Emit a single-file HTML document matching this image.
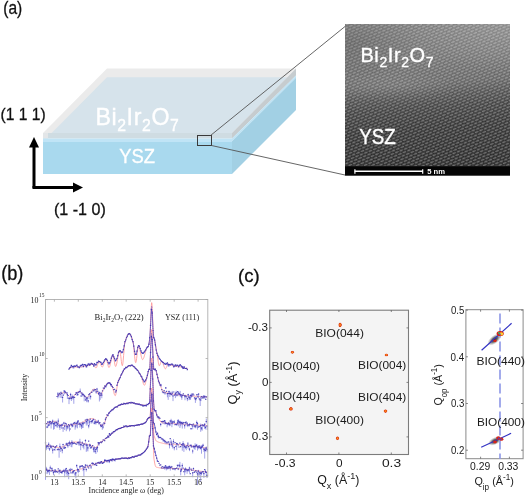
<!DOCTYPE html>
<html><head><meta charset="utf-8">
<style>
html,body{margin:0;padding:0;background:#fff;}
body{width:525px;height:496px;overflow:hidden;}
svg{display:block;will-change:transform;}
.s{font-family:"Liberation Sans",sans-serif;}
.r{font-family:"Liberation Serif",serif;}
</style></head><body>
<svg width="525" height="496" viewBox="0 0 525 496">
<defs>
  <pattern id="texA" width="4.8" height="5.6" patternUnits="userSpaceOnUse" patternTransform="rotate(-22)">
    <rect width="4.8" height="5.6" fill="#000" fill-opacity="0.24"/>
    <ellipse cx="1.2" cy="1.4" rx="2.1" ry="0.85" fill="#fff" fill-opacity="0.34"/>
    <ellipse cx="3.6" cy="4.2" rx="2.1" ry="0.85" fill="#fff" fill-opacity="0.34"/>
    <ellipse cx="-1.2" cy="4.2" rx="2.1" ry="0.85" fill="#fff" fill-opacity="0.34"/>
    <ellipse cx="6.0" cy="1.4" rx="2.1" ry="0.85" fill="#fff" fill-opacity="0.34"/>
  </pattern>
  <radialGradient id="temtl" gradientUnits="userSpaceOnUse" cx="345" cy="42" r="80" gradientTransform="translate(345 42) scale(1 0.5) translate(-345 -42)">
    <stop offset="0" stop-color="#000" stop-opacity="0.15"/>
    <stop offset="1" stop-color="#000" stop-opacity="0"/>
  </radialGradient>
  <radialGradient id="temlp" gradientUnits="userSpaceOnUse" cx="395" cy="86" r="65" gradientTransform="translate(395 86) scale(1 0.25) translate(-395 -86)">
    <stop offset="0" stop-color="#fff" stop-opacity="0.07"/>
    <stop offset="1" stop-color="#fff" stop-opacity="0"/>
  </radialGradient>
  <linearGradient id="temg" gradientUnits="userSpaceOnUse" x1="345" y1="24" x2="355" y2="189">
    <stop offset="0" stop-color="#a4a4a4"/>
    <stop offset="0.218" stop-color="#949494"/>
    <stop offset="0.388" stop-color="#808080"/>
    <stop offset="0.46" stop-color="#666666"/>
    <stop offset="0.533" stop-color="#525252"/>
    <stop offset="0.655" stop-color="#404040"/>
    <stop offset="0.86" stop-color="#333333"/>
    <stop offset="1" stop-color="#313131"/>
  </linearGradient>
  <radialGradient id="temtr" gradientUnits="userSpaceOnUse" cx="510" cy="24" r="90" gradientTransform="translate(510 24) scale(1 0.55) translate(-510 -24)">
    <stop offset="0" stop-color="#fff" stop-opacity="0.12"/>
    <stop offset="1" stop-color="#fff" stop-opacity="0"/>
  </radialGradient>
  <linearGradient id="temh" x1="0" y1="0" x2="1" y2="0">
    <stop offset="0" stop-color="#000" stop-opacity="0.05"/>
    <stop offset="0.5" stop-color="#fff" stop-opacity="0"/>
    <stop offset="1" stop-color="#fff" stop-opacity="0.07"/>
  </linearGradient>
  <radialGradient id="spot" cx="0.5" cy="0.5" r="0.5">
    <stop offset="0" stop-color="#ffb020"/>
    <stop offset="0.4" stop-color="#f46a14"/>
    <stop offset="0.8" stop-color="#d8341a"/>
    <stop offset="1" stop-color="#d8341a" stop-opacity="0.3"/>
  </radialGradient>
  <radialGradient id="halo" cx="0.5" cy="0.5" r="0.5">
    <stop offset="0" stop-color="#1a1a1a" stop-opacity="1"/>
    <stop offset="0.45" stop-color="#404040" stop-opacity="0.75"/>
    <stop offset="1" stop-color="#909090" stop-opacity="0"/>
  </radialGradient>
</defs>

<!-- ================= PANEL (a) ================= -->
<text class="s" x="3.3" y="14" font-size="18.5" textLength="19" lengthAdjust="spacingAndGlyphs" fill="#111" stroke="#111" stroke-width="0.3">(a)</text>

<!-- slab -->
<polygon points="43,133 232,133 296,68.5 107,68.5" fill="#ebebeb"/>
<polygon points="51.7,133 232,133 287.3,77.2 107,77.2" fill="#d6e3eb"/>
<polygon points="43,133 232,133 232,138.6 43,138.6" fill="#cfdce2"/>
<polygon points="43,133 48,133 48,138.6 43,138.6" fill="#e3e6e8"/>
<polygon points="43,138.6 232,138.6 232,142 43,142" fill="#c0e4f6"/>
<polygon points="43,142 232,142 232,174 43,174" fill="#a9d9ee"/>
<polygon points="232,133 296,68.5 296,75.5 232,138.6" fill="#c6cccf"/>
<polygon points="232,138.6 296,75.5 296,77.8 232,141.2" fill="#bfe3f4"/>
<polygon points="232,141.2 296,77.8 296,110 232,174" fill="#a2d0e4"/>

<text class="s" fill="#ffffff" stroke="#fff" stroke-width="0.35" font-size="23.2" y="124.5" letter-spacing="0.6"><tspan x="95.4">Bi</tspan><tspan font-size="15.8" dy="6">2</tspan><tspan dy="-6">Ir</tspan><tspan font-size="15.8" dy="6">2</tspan><tspan dy="-6">O</tspan><tspan font-size="15.8" dy="6">7</tspan></text>
<text class="s" fill="#ffffff" stroke="#fff" stroke-width="0.35" font-size="20.8" x="119.2" y="162.8" textLength="35.8" lengthAdjust="spacingAndGlyphs">YSZ</text>

<!-- axes arrows -->
<path d="M34,188 V146" stroke="#000" stroke-width="3" fill="none"/>
<polygon points="34,137 29,147.5 39,147.5" fill="#000"/>
<path d="M32.5,187.5 H74" stroke="#000" stroke-width="3" fill="none"/>
<polygon points="83,187.5 73,182.5 73,192.5" fill="#000"/>
<text class="s" x="0.6" y="119.8" font-size="16.5" textLength="45" lengthAdjust="spacingAndGlyphs" fill="#111" stroke="#111" stroke-width="0.3">(1 1 1)</text>
<text class="s" x="54" y="215" font-size="16.5" textLength="51.8" lengthAdjust="spacingAndGlyphs" fill="#111" stroke="#111" stroke-width="0.3">(1 -1 0)</text>

<!-- zoom box and lines -->
<rect x="197.5" y="135.5" width="14" height="10" fill="none" stroke="#3a3a3a" stroke-width="1"/>
<path d="M210.5,135.5 L345,26.5 M211.5,145.5 L345,175" stroke="#555" stroke-width="0.9" fill="none"/>

<!-- TEM -->
<rect x="345" y="24" width="165" height="151.5" fill="url(#temg)"/>
<rect x="345" y="24" width="165" height="142.3" fill="url(#texA)"/>
<rect x="345" y="24" width="165" height="90" fill="url(#temtl)"/>
<rect x="345" y="60" width="165" height="50" fill="url(#temlp)"/>
<rect x="345" y="24" width="165" height="60" fill="url(#temtr)"/>
<rect x="345" y="166.3" width="165" height="9.2" fill="#050505"/>
<path d="M354.7,171.3 H423" stroke="#fff" stroke-width="1.4"/>
<path d="M354.9,169.3 V173.7" stroke="#fff" stroke-width="1.2"/>
<path d="M422.7,169.3 V173.7" stroke="#fff" stroke-width="1.2"/>
<text class="s" x="427.2" y="174" font-size="7.4" font-weight="bold" fill="#fff" textLength="17.8" lengthAdjust="spacingAndGlyphs">5 nm</text>
<text class="s" fill="#fff" stroke="#fff" stroke-width="0.35" font-size="20" y="62" letter-spacing="0.6"><tspan x="360.4">Bi</tspan><tspan font-size="14" dy="5">2</tspan><tspan dy="-5">Ir</tspan><tspan font-size="14" dy="5">2</tspan><tspan dy="-5">O</tspan><tspan font-size="14" dy="5">7</tspan></text>
<text class="s" fill="#fff" stroke="#fff" stroke-width="0.35" font-size="21.3" x="359.2" y="144" textLength="36.6" lengthAdjust="spacingAndGlyphs">YSZ</text>

<!-- ================= PANEL (b) ================= -->
<text class="s" x="1.2" y="279.8" font-size="20" textLength="22.2" lengthAdjust="spacingAndGlyphs" fill="#111" stroke="#111" stroke-width="0.3">(b)</text>
<g id="bplot">
<path d="M69.0,368.0 L69.2,368.0 L69.4,367.9 L69.6,367.9 L69.8,367.9 L70.0,367.8 L70.2,367.8 L70.4,367.7 L70.6,367.7 L70.8,367.6 L71.0,367.6 L71.2,367.5 L71.4,367.5 L71.6,367.5 L71.8,367.4 L72.0,367.4 L72.2,367.3 L72.4,367.3 L72.6,367.3 L72.8,367.2 L73.0,367.2 L73.2,367.2 L73.4,367.1 L73.6,367.1 L73.8,367.1 L74.0,367.1 L74.2,367.0 L74.4,367.0 L74.6,367.0 L74.8,367.0 L75.0,367.0 L75.2,367.0 L75.4,367.0 L75.6,367.0 L75.8,367.0 L76.0,367.0 L76.2,367.0 L76.4,367.0 L76.6,367.0 L76.8,367.0 L77.0,367.0 L77.2,367.0 L77.4,367.0 L77.6,367.0 L77.8,367.0 L78.0,367.0 L78.2,367.0 L78.4,367.0 L78.6,367.0 L78.8,367.0 L79.0,367.0 L79.2,367.0 L79.4,367.0 L79.6,367.0 L79.8,367.0 L80.0,367.0 L80.2,367.0 L80.4,367.0 L80.6,367.0 L80.8,367.0 L81.0,367.0 L81.2,366.9 L81.4,366.9 L81.6,366.9 L81.8,366.9 L82.0,366.8 L82.2,366.8 L82.4,366.8 L82.6,366.7 L82.8,366.7 L83.0,366.7 L83.2,366.6 L83.4,366.6 L83.6,366.5 L83.8,366.5 L84.0,366.4 L84.2,366.4 L84.4,366.3 L84.6,366.3 L84.8,366.3 L85.0,366.2 L85.2,366.2 L85.4,366.1 L85.6,366.1 L85.8,366.0 L86.0,366.0 L86.2,366.0 L86.4,365.9 L86.6,365.9 L86.8,365.8 L87.0,365.8 L87.2,365.7 L87.4,365.7 L87.6,365.6 L87.8,365.6 L88.0,365.5 L88.2,365.5 L88.4,365.4 L88.6,365.4 L88.8,365.3 L89.0,365.3 L89.2,365.2 L89.4,365.2 L89.6,365.1 L89.8,365.1 L90.0,365.0 L90.2,364.9 L90.4,364.9 L90.6,364.8 L90.8,364.7 L91.0,364.6 L91.2,364.5 L91.4,364.4 L91.6,364.3 L91.8,364.3 L92.0,364.2 L92.2,364.1 L92.4,364.1 L92.6,364.0 L92.8,364.0 L93.0,364.0 L93.2,364.1 L93.4,364.2 L93.6,364.4 L93.8,364.7 L94.0,365.0 L94.2,365.4 L94.4,365.8 L94.6,366.2 L94.8,366.6 L95.0,367.0 L95.2,367.3 L95.4,367.6 L95.6,367.8 L95.8,367.9 L96.0,368.0 L96.2,367.9 L96.4,367.7 L96.6,367.4 L96.8,366.9 L97.0,366.4 L97.2,365.8 L97.4,365.2 L97.6,364.6 L97.8,364.0 L98.0,363.4 L98.2,362.8 L98.4,362.3 L98.6,362.0 L98.8,361.7 L99.0,361.5 L99.2,361.5 L99.4,361.6 L99.6,361.9 L99.8,362.2 L100.0,362.6 L100.2,363.1 L100.4,363.6 L100.6,364.1 L100.8,364.6 L101.0,365.2 L101.2,365.7 L101.4,366.1 L101.6,366.5 L101.8,366.7 L102.0,366.9 L102.2,367.0 L102.4,366.9 L102.6,366.8 L102.8,366.5 L103.0,366.1 L103.2,365.6 L103.4,365.1 L103.6,364.5 L103.8,363.9 L104.0,363.3 L104.2,362.7 L104.4,362.1 L104.6,361.5 L104.8,360.9 L105.0,360.4 L105.2,359.9 L105.4,359.5 L105.6,359.2 L105.8,359.1 L106.0,359.0 L106.2,359.1 L106.4,359.4 L106.6,359.9 L106.8,360.5 L107.0,361.2 L107.2,362.0 L107.4,362.8 L107.6,363.7 L107.8,364.5 L108.0,365.3 L108.2,366.0 L108.4,366.6 L108.6,367.1 L108.8,367.4 L109.0,367.5 L109.2,367.4 L109.4,367.1 L109.6,366.7 L109.8,366.1 L110.0,365.5 L110.2,364.7 L110.4,363.8 L110.6,362.9 L110.8,362.0 L111.0,361.0 L111.2,360.1 L111.4,359.1 L111.6,358.2 L111.8,357.4 L112.0,356.7 L112.2,356.1 L112.4,355.6 L112.6,355.2 L112.8,355.0 L113.0,355.0 L113.2,355.4 L113.4,356.0 L113.6,356.9 L113.8,358.0 L114.0,359.2 L114.2,360.4 L114.4,361.7 L114.6,362.9 L114.8,364.1 L115.0,365.0 L115.2,365.8 L115.4,366.3 L115.6,366.5 L115.8,366.4 L116.0,366.1 L116.2,365.6 L116.4,364.9 L116.6,364.1 L116.8,363.2 L117.0,362.2 L117.2,361.1 L117.4,360.0 L117.6,358.8 L117.8,357.6 L118.0,356.5 L118.2,355.4 L118.4,354.3 L118.6,353.3 L118.8,352.5 L119.0,351.7 L119.2,351.2 L119.4,350.7 L119.6,350.5 L119.8,350.6 L120.0,351.1 L120.2,352.0 L120.4,353.2 L120.6,354.7 L120.8,356.4 L121.0,358.1 L121.2,359.8 L121.4,361.5 L121.6,363.0 L121.8,364.2 L122.0,365.1 L122.2,365.6 L122.4,365.6 L122.6,365.0 L122.8,363.8 L123.0,362.2 L123.2,360.2 L123.4,358.0 L123.6,355.6 L123.8,353.2 L124.0,350.7 L124.2,348.4 L124.4,346.2 L124.6,344.4 L124.8,343.0 L125.0,342.0 L125.2,341.3 L125.4,340.7 L125.6,340.0 L125.8,339.4 L126.0,338.8 L126.2,338.2 L126.4,337.7 L126.6,337.2 L126.8,336.7 L127.0,336.2 L127.2,335.8 L127.4,335.4 L127.6,335.0 L127.8,334.6 L128.0,334.3 L128.2,334.1 L128.4,333.9 L128.6,333.7 L128.8,333.5 L129.0,333.5 L129.2,333.4 L129.4,333.4 L129.6,333.5 L129.8,333.6 L130.0,333.8 L130.2,334.1 L130.4,334.4 L130.6,334.8 L130.8,335.2 L131.0,335.6 L131.2,336.1 L131.4,336.7 L131.6,337.3 L131.8,337.9 L132.0,338.5 L132.2,339.2 L132.4,339.8 L132.6,340.6 L132.8,341.3 L133.0,342.0 L133.2,343.0 L133.4,344.3 L133.6,345.9 L133.8,347.8 L134.0,349.9 L134.2,352.0 L134.4,354.1 L134.6,356.2 L134.8,358.1 L135.0,359.7 L135.2,361.1 L135.4,362.1 L135.6,362.6 L135.8,362.6 L136.0,362.2 L136.2,361.3 L136.4,360.1 L136.6,358.6 L136.8,357.0 L137.0,355.2 L137.2,353.4 L137.4,351.6 L137.6,350.0 L137.8,348.5 L138.0,347.3 L138.2,346.4 L138.4,346.0 L138.6,345.9 L138.8,346.1 L139.0,346.5 L139.2,347.0 L139.4,347.6 L139.6,348.3 L139.8,349.2 L140.0,350.1 L140.2,351.0 L140.4,352.0 L140.6,353.0 L140.8,354.0 L141.0,355.0 L141.2,355.9 L141.4,356.8 L141.6,357.6 L141.8,358.2 L142.0,358.8 L142.2,359.2 L142.4,359.5 L142.6,359.6 L142.8,359.5 L143.0,359.4 L143.2,359.1 L143.4,358.7 L143.6,358.3 L143.8,357.7 L144.0,357.1 L144.2,356.5 L144.4,355.8 L144.6,355.1 L144.8,354.3 L145.0,353.6 L145.2,352.8 L145.4,352.1 L145.6,351.4 L145.8,350.7 L146.0,350.0 L146.2,349.4 L146.4,348.9 L146.6,348.4 L146.8,348.0 L147.0,347.7 L147.2,347.4 L147.4,347.1 L147.6,346.9 L147.8,346.7 L148.0,346.4 L148.2,346.1 L148.4,345.7 L148.6,345.3 L148.8,344.8 L149.0,343.8 L149.2,342.6 L149.4,341.1 L149.6,339.5 L149.8,338.0 L150.0,336.7 L150.2,332.0 L150.4,326.5 L150.6,321.4 L150.8,316.7 L151.0,312.3 L151.2,308.4 L151.4,305.2 L151.6,302.7 L151.8,302.7 L152.0,305.2 L152.2,308.4 L152.4,312.3 L152.6,316.7 L152.8,321.4 L153.0,326.5 L153.2,332.0 L153.4,337.1 L153.6,337.4 L153.8,337.7 L154.0,338.0 L154.2,338.4 L154.4,339.0 L154.6,339.7 L154.8,340.5 L155.0,341.5 L155.2,342.6 L155.4,343.7 L155.6,345.0 L155.8,346.2 L156.0,347.5 L156.2,348.8 L156.4,350.0 L156.6,351.2 L156.8,352.4 L157.0,353.5 L157.2,354.6 L157.4,355.9 L157.6,357.3 L157.8,358.7 L158.0,360.1 L158.2,361.4 L158.4,362.7 L158.6,363.8 L158.8,364.7 L159.0,365.3 L159.2,365.7 L159.4,365.7 L159.6,365.5 L159.8,365.1 L160.0,364.7 L160.2,364.1 L160.4,363.5 L160.6,363.0 L160.8,362.4 L161.0,361.9 L161.2,361.5 L161.4,361.2 L161.6,361.1 L161.8,361.2 L162.0,361.3 L162.2,361.6 L162.4,362.0 L162.6,362.4 L162.8,362.9 L163.0,363.5 L163.2,364.0 L163.4,364.6 L163.6,365.3 L163.8,365.9 L164.0,366.4 L164.2,367.0 L164.4,367.5 L164.6,367.9 L164.8,368.3 L165.0,368.6 L165.2,368.7 L165.4,368.8 L165.6,368.7 L165.8,368.5 L166.0,368.2 L166.2,367.8 L166.4,367.3 L166.6,366.8 L166.8,366.2 L167.0,365.7 L167.2,365.2 L167.4,364.8 L167.6,364.5 L167.8,364.3 L168.0,364.2 L168.2,364.2 L168.4,364.2 L168.6,364.2 L168.8,364.3 L169.0,364.3 L169.2,364.4 L169.4,364.4 L169.6,364.5 L169.8,364.6 L170.0,364.6 L170.2,364.7 L170.4,364.8 L170.6,364.9 L170.8,365.0 L171.0,365.1 L171.2,365.1 L171.4,365.2 L171.6,365.3 L171.8,365.4 L172.0,365.5 L172.2,365.6 L172.4,365.7 L172.6,365.7 L172.8,365.8 L173.0,365.9 L173.2,365.9 L173.4,366.0 L173.6,366.0 L173.8,366.0 L174.0,366.1 L174.2,366.1 L174.4,366.1 L174.6,366.2 L174.8,366.2 L175.0,366.2 L175.2,366.2 L175.4,366.3 L175.6,366.3 L175.8,366.3 L176.0,366.3 L176.2,366.4 L176.4,366.4 L176.6,366.4 L176.8,366.4 L177.0,366.4 L177.2,366.5 L177.4,366.5 L177.6,366.5 L177.8,366.5 L178.0,366.5 L178.2,366.6 L178.4,366.6 L178.6,366.6 L178.8,366.6 L179.0,366.6 L179.2,366.7 L179.4,366.7 L179.6,366.7 L179.8,366.7 L180.0,366.7 L180.2,366.8 L180.4,366.8 L180.6,366.8 L180.8,366.9 L181.0,366.9 L181.2,366.9 L181.4,366.9 L181.6,367.0 L181.8,367.0 L182.0,367.1 L182.2,367.1 L182.4,367.1 L182.6,367.2 L182.8,367.2 L183.0,367.3 L183.2,367.4 L183.4,367.4 L183.6,367.5 L183.8,367.5 L184.0,367.6 L184.2,367.7 L184.4,367.7 L184.6,367.8 L184.8,367.9 L185.0,367.9 L185.2,368.0 L185.4,368.1 L185.6,368.2 L185.8,368.2 L186.0,368.3 L186.2,368.4 L186.4,368.5 L186.6,368.5 L186.8,368.6 L187.0,368.7 L187.2,368.7 L187.4,368.8 L187.6,368.9 L187.8,368.9 L188.0,369.0" fill="none" stroke="#ff9c9c" stroke-width="0.9"/>
<path d="M73.0,365.3V368.5 M73.8,365.4V368.6 M81.0,364.3V367.5 M85.8,364.1V367.3 M89.0,362.9V366.1 M168.2,363.5V366.7 M169.0,363.7V366.9 M182.6,365.9V369.1" stroke="#5a5ad6" stroke-width="0.65" fill="none" stroke-opacity="0.85"/>
<path d="M69.0,369.2 L69.8,367.8 L70.6,367.3 L71.4,365.3 L72.2,366.7 L73.0,366.5 L73.8,366.6 L74.6,366.0 L75.4,366.4 L76.2,365.9 L77.0,365.0 L77.8,367.0 L78.6,367.0 L79.4,367.7 L80.2,366.0 L81.0,365.5 L81.8,365.3 L82.6,364.3 L83.4,366.7 L84.2,364.6 L85.0,364.5 L85.8,365.3 L86.6,366.8 L87.4,365.4 L88.2,364.0 L89.0,364.1 L89.8,365.1 L90.6,364.2 L91.4,363.4 L92.2,363.9 L93.0,364.3 L93.8,366.1 L94.6,363.7 L95.4,364.9 L96.2,364.9 L97.0,362.3 L97.8,362.6 L98.6,361.2 L99.4,361.5 L100.2,362.0 L101.0,362.4 L101.8,364.4 L102.6,363.9 L103.4,362.5 L104.2,361.2 L105.0,359.7 L105.8,358.7 L106.6,359.4 L107.4,360.4 L108.2,362.5 L109.0,363.9 L109.8,362.7 L110.6,360.6 L111.4,358.1 L112.2,356.1 L113.0,354.7 L113.8,356.8 L114.6,358.7 L115.4,360.9 L116.2,360.0 L117.0,358.5 L117.8,355.6 L118.6,352.3 L119.4,351.1 L120.2,350.6 L121.0,351.7 L121.8,352.6 L122.6,352.2 L123.4,349.7 L124.2,345.9 L125.0,341.7 L125.8,340.0 L126.6,337.5 L127.4,336.1 L128.2,334.3 L129.0,333.6 L129.8,333.8 L130.6,335.0 L131.4,336.6 L132.2,339.7 L133.0,341.7 L133.8,346.1 L134.6,351.3 L135.4,354.4 L136.2,354.3 L137.0,351.2 L137.8,347.3 L138.6,345.7 L139.4,346.1 L140.2,348.5 L141.0,350.8 L141.8,352.6 L142.6,353.3 L143.4,353.2 L144.2,352.1 L145.0,351.0 L145.8,349.8 L146.6,348.1 L147.4,347.2 L148.2,346.7 L149.0,344.1 L149.8,337.7 L150.6,325.4 L151.4,309.3 L152.2,312.8 L153.0,330.6 L153.8,337.6 L154.6,339.8 L155.4,344.8 L156.2,350.0 L157.0,353.4 L157.8,355.4 L158.6,356.9 L159.4,358.6 L160.2,359.4 L161.0,360.6 L161.8,361.5 L162.6,362.1 L163.4,362.5 L164.2,364.0 L165.0,363.4 L165.8,364.5 L166.6,363.6 L167.4,362.8 L168.2,364.7 L169.0,364.9 L169.8,364.6 L170.6,365.0 L171.4,364.2 L172.2,364.2 L173.0,364.9 L173.8,366.9 L174.6,366.0 L175.4,364.9 L176.2,366.1 L177.0,365.2 L177.8,365.4 L178.6,366.8 L179.4,365.7 L180.2,364.7 L181.0,365.7 L181.8,366.8 L182.6,367.1 L183.4,368.4 L184.2,366.8 L185.0,368.5 L185.8,368.5 L186.6,368.3 L187.4,369.6" fill="none" stroke="#4436b8" stroke-width="0.8" stroke-opacity="0.78"/>
<path d="M147.8,346.8 L147.9,346.6 L148.0,346.5 L148.1,346.3 L148.2,346.1 L148.3,346.0 L148.4,345.8 L148.5,345.6 L148.6,345.3 L148.7,345.1 L148.8,344.8 L148.9,344.4 L149.0,343.8 L149.1,343.2 L149.2,342.6 L149.3,341.8 L149.4,341.1 L149.5,340.3 L149.6,339.5 L149.7,338.7 L149.8,338.0 L149.9,337.3 L150.0,336.7 L150.1,336.1 L150.2,335.6 L150.3,333.2 L150.4,330.5 L150.5,327.9 L150.6,325.4 L150.7,323.0 L150.8,320.7 L150.9,318.4 L151.0,316.3 L151.1,314.3 L151.2,312.4 L151.3,310.7 L151.4,309.2 L151.5,307.8 L151.6,306.7 L151.7,306.0 L151.8,306.7 L151.9,307.8 L152.0,309.2 L152.1,310.7 L152.2,312.4 L152.3,314.3 L152.4,316.3 L152.5,318.4 L152.6,320.7 L152.7,323.0 L152.8,325.4 L152.9,327.9 L153.0,330.5 L153.1,333.2 L153.2,336.0 L153.3,337.0 L153.4,337.1 L153.5,337.3 L153.6,337.4 L153.7,337.6 L153.8,337.7 L153.9,337.9 L154.0,338.0 L154.1,338.2 L154.2,338.4 L154.3,338.7 L154.4,339.1 L154.5,339.5 L154.6,339.9 L154.7,340.4 L154.8,341.0 L154.9,341.5 L155.0,342.1 L155.1,342.7 L155.2,343.4 L155.3,344.0 L155.4,344.7 L155.5,345.3 L155.6,346.0 L155.7,346.7" fill="none" stroke="#4646c8" stroke-width="0.6" stroke-dasharray="1.2,0.9" stroke-opacity="0.85"/>
<path d="M68.3,369.2h1.3 M69.1,367.8h1.3 M69.9,367.3h1.3 M70.7,365.3h1.3 M71.5,366.7h1.3 M72.3,366.5h1.3 M73.1,366.6h1.3 M73.9,366.0h1.3 M74.7,366.4h1.3 M75.5,365.9h1.3 M76.3,365.0h1.3 M77.1,367.0h1.3 M77.9,367.0h1.3 M78.7,367.7h1.3 M79.5,366.0h1.3 M80.3,365.5h1.3 M81.1,365.3h1.3 M81.9,364.3h1.3 M82.7,366.7h1.3 M83.5,364.6h1.3 M84.3,364.5h1.3 M85.1,365.3h1.3 M85.9,366.8h1.3 M86.7,365.4h1.3 M87.5,364.0h1.3 M88.3,364.1h1.3 M89.1,365.1h1.3 M89.9,364.2h1.3 M90.7,363.4h1.3 M91.5,363.9h1.3 M92.3,364.3h1.3 M93.1,366.1h1.3 M93.9,363.7h1.3 M94.7,364.9h1.3 M95.5,364.9h1.3 M96.3,362.3h1.3 M97.1,362.6h1.3 M97.9,361.2h1.3 M98.7,361.5h1.3 M99.5,362.0h1.3 M100.3,362.4h1.3 M101.1,364.4h1.3 M101.9,363.9h1.3 M102.7,362.5h1.3 M103.5,361.2h1.3 M104.3,359.7h1.3 M105.1,358.7h1.3 M105.9,359.4h1.3 M106.7,360.4h1.3 M107.5,362.5h1.3 M108.3,363.9h1.3 M109.1,362.7h1.3 M109.9,360.6h1.3 M110.7,358.1h1.3 M111.5,356.1h1.3 M112.3,354.7h1.3 M113.1,356.8h1.3 M113.9,358.7h1.3 M114.7,360.9h1.3 M115.5,360.0h1.3 M116.3,358.5h1.3 M117.1,355.6h1.3 M117.9,352.3h1.3 M118.7,351.1h1.3 M119.5,350.6h1.3 M120.3,351.7h1.3 M121.1,352.6h1.3 M121.9,352.2h1.3 M122.7,349.7h1.3 M123.5,345.9h1.3 M124.3,341.7h1.3 M125.1,340.0h1.3 M125.9,337.5h1.3 M126.7,336.1h1.3 M127.5,334.3h1.3 M128.3,333.6h1.3 M129.1,333.8h1.3 M129.9,335.0h1.3 M130.7,336.6h1.3 M131.5,339.7h1.3 M132.3,341.7h1.3 M133.1,346.1h1.3 M133.9,351.3h1.3 M134.7,354.4h1.3 M135.5,354.3h1.3 M136.3,351.2h1.3 M137.1,347.3h1.3 M137.9,345.7h1.3 M138.7,346.1h1.3 M139.5,348.5h1.3 M140.3,350.8h1.3 M141.1,352.6h1.3 M141.9,353.3h1.3 M142.7,353.2h1.3 M143.5,352.1h1.3 M144.3,351.0h1.3 M145.1,349.8h1.3 M145.9,348.1h1.3 M146.7,347.2h1.3 M147.5,346.7h1.3 M148.3,344.1h1.3 M149.1,337.7h1.3 M149.9,325.4h1.3 M150.7,309.3h1.3 M151.5,312.8h1.3 M152.3,330.6h1.3 M153.1,337.6h1.3 M153.9,339.8h1.3 M154.7,344.8h1.3 M155.5,350.0h1.3 M156.3,353.4h1.3 M157.1,355.4h1.3 M157.9,356.9h1.3 M158.7,358.6h1.3 M159.5,359.4h1.3 M160.3,360.6h1.3 M161.1,361.5h1.3 M161.9,362.1h1.3 M162.7,362.5h1.3 M163.5,364.0h1.3 M164.3,363.4h1.3 M165.1,364.5h1.3 M165.9,363.6h1.3 M166.7,362.8h1.3 M167.5,364.7h1.3 M168.3,364.9h1.3 M169.1,364.6h1.3 M169.9,365.0h1.3 M170.7,364.2h1.3 M171.5,364.2h1.3 M172.3,364.9h1.3 M173.1,366.9h1.3 M173.9,366.0h1.3 M174.7,364.9h1.3 M175.5,366.1h1.3 M176.3,365.2h1.3 M177.1,365.4h1.3 M177.9,366.8h1.3 M178.7,365.7h1.3 M179.5,364.7h1.3 M180.3,365.7h1.3 M181.1,366.8h1.3 M181.9,367.1h1.3 M182.7,368.4h1.3 M183.5,366.8h1.3 M184.3,368.5h1.3 M185.1,368.5h1.3 M185.9,368.3h1.3 M186.7,369.6h1.3" stroke="#3a30ae" stroke-width="1.2" fill="none" stroke-opacity="0.82"/>
<path d="M57.0,396.0 L57.2,395.9 L57.4,395.8 L57.6,395.7 L57.8,395.6 L58.0,395.5 L58.2,395.4 L58.4,395.2 L58.6,395.1 L58.8,395.0 L59.0,394.9 L59.2,394.8 L59.4,394.6 L59.6,394.5 L59.8,394.4 L60.0,394.3 L60.2,394.1 L60.4,394.0 L60.6,393.9 L60.8,393.8 L61.0,393.7 L61.2,393.6 L61.4,393.4 L61.6,393.3 L61.8,393.2 L62.0,393.1 L62.2,393.1 L62.4,393.0 L62.6,392.9 L62.8,392.8 L63.0,392.8 L63.2,392.7 L63.4,392.6 L63.6,392.6 L63.8,392.6 L64.0,392.5 L64.2,392.5 L64.4,392.5 L64.6,392.5 L64.8,392.5 L65.0,392.6 L65.2,392.6 L65.4,392.7 L65.6,392.9 L65.8,393.0 L66.0,393.1 L66.2,393.3 L66.4,393.5 L66.6,393.6 L66.8,393.8 L67.0,394.0 L67.2,394.2 L67.4,394.5 L67.6,394.7 L67.8,394.9 L68.0,395.1 L68.2,395.3 L68.4,395.5 L68.6,395.8 L68.8,396.0 L69.0,396.2 L69.2,396.4 L69.4,396.5 L69.6,396.7 L69.8,396.9 L70.0,397.0 L70.2,397.1 L70.4,397.3 L70.6,397.4 L70.8,397.4 L71.0,397.5 L71.2,397.5 L71.4,397.5 L71.6,397.5 L71.8,397.4 L72.0,397.4 L72.2,397.3 L72.4,397.2 L72.6,397.0 L72.8,396.9 L73.0,396.8 L73.2,396.6 L73.4,396.4 L73.6,396.2 L73.8,396.0 L74.0,395.8 L74.2,395.6 L74.4,395.4 L74.6,395.1 L74.8,394.9 L75.0,394.7 L75.2,394.4 L75.4,394.2 L75.6,394.0 L75.8,393.7 L76.0,393.5 L76.2,393.3 L76.4,393.1 L76.6,392.9 L76.8,392.7 L77.0,392.5 L77.2,392.3 L77.4,392.2 L77.6,392.0 L77.8,391.9 L78.0,391.8 L78.2,391.7 L78.4,391.6 L78.6,391.5 L78.8,391.5 L79.0,391.5 L79.2,391.5 L79.4,391.5 L79.6,391.6 L79.8,391.7 L80.0,391.8 L80.2,391.9 L80.4,392.0 L80.6,392.2 L80.8,392.4 L81.0,392.5 L81.2,392.7 L81.4,392.9 L81.6,393.1 L81.8,393.3 L82.0,393.6 L82.2,393.8 L82.4,394.0 L82.6,394.3 L82.8,394.5 L83.0,394.7 L83.2,395.0 L83.4,395.2 L83.6,395.4 L83.8,395.7 L84.0,395.9 L84.2,396.1 L84.4,396.3 L84.6,396.5 L84.8,396.6 L85.0,396.8 L85.2,397.0 L85.4,397.1 L85.6,397.2 L85.8,397.3 L86.0,397.4 L86.2,397.5 L86.4,397.5 L86.6,397.5 L86.8,397.5 L87.0,397.4 L87.2,397.3 L87.4,397.2 L87.6,397.1 L87.8,396.9 L88.0,396.7 L88.2,396.5 L88.4,396.3 L88.6,396.0 L88.8,395.8 L89.0,395.5 L89.2,395.2 L89.4,394.9 L89.6,394.6 L89.8,394.2 L90.0,393.9 L90.2,393.6 L90.4,393.2 L90.6,392.9 L90.8,392.6 L91.0,392.3 L91.2,391.9 L91.4,391.6 L91.6,391.3 L91.8,391.0 L92.0,390.7 L92.2,390.5 L92.4,390.2 L92.6,390.0 L92.8,389.8 L93.0,389.6 L93.2,389.4 L93.4,389.3 L93.6,389.2 L93.8,389.1 L94.0,389.0 L94.2,389.0 L94.4,389.0 L94.6,389.1 L94.8,389.2 L95.0,389.3 L95.2,389.5 L95.4,389.7 L95.6,389.9 L95.8,390.1 L96.0,390.4 L96.2,390.7 L96.4,391.0 L96.6,391.3 L96.8,391.6 L97.0,391.9 L97.2,392.3 L97.4,392.6 L97.6,392.9 L97.8,393.2 L98.0,393.6 L98.2,393.9 L98.4,394.2 L98.6,394.4 L98.8,394.7 L99.0,394.9 L99.2,395.1 L99.4,395.3 L99.6,395.5 L99.8,395.6 L100.0,395.7 L100.2,395.7 L100.4,395.7 L100.6,395.6 L100.8,395.4 L101.0,395.1 L101.2,394.8 L101.4,394.4 L101.6,393.9 L101.8,393.5 L102.0,392.9 L102.2,392.4 L102.4,391.8 L102.6,391.3 L102.8,390.7 L103.0,390.2 L103.2,389.6 L103.4,389.2 L103.6,388.7 L103.8,388.3 L104.0,388.0 L104.2,387.7 L104.4,387.4 L104.6,387.1 L104.8,386.8 L105.0,386.5 L105.2,386.2 L105.4,385.9 L105.6,385.6 L105.8,385.3 L106.0,385.0 L106.2,384.7 L106.4,384.5 L106.6,384.2 L106.8,384.0 L107.0,383.8 L107.2,383.6 L107.4,383.4 L107.6,383.2 L107.8,383.1 L108.0,383.0 L108.2,382.9 L108.4,382.8 L108.6,382.8 L108.8,382.8 L109.0,382.8 L109.2,382.9 L109.4,383.0 L109.6,383.1 L109.8,383.3 L110.0,383.4 L110.2,383.6 L110.4,383.8 L110.6,384.1 L110.8,384.3 L111.0,384.6 L111.2,384.9 L111.4,385.1 L111.6,385.4 L111.8,385.7 L112.0,386.0 L112.2,386.4 L112.4,386.9 L112.6,387.5 L112.8,388.2 L113.0,388.9 L113.2,389.8 L113.4,390.6 L113.6,391.4 L113.8,392.3 L114.0,393.0 L114.2,393.8 L114.4,394.4 L114.6,394.9 L114.8,395.3 L115.0,395.6 L115.2,395.7 L115.4,395.5 L115.6,395.1 L115.8,394.4 L116.0,393.5 L116.2,392.4 L116.4,391.2 L116.6,389.9 L116.8,388.6 L117.0,387.2 L117.2,385.9 L117.4,384.7 L117.6,383.6 L117.8,382.7 L118.0,382.0 L118.2,381.4 L118.4,380.9 L118.6,380.3 L118.8,379.8 L119.0,379.4 L119.2,378.9 L119.4,378.5 L119.6,378.1 L119.8,377.7 L120.0,377.3 L120.2,376.9 L120.4,376.5 L120.6,376.2 L120.8,375.8 L121.0,375.5 L121.2,375.1 L121.4,374.8 L121.6,374.4 L121.8,374.0 L122.0,373.7 L122.2,373.3 L122.4,372.9 L122.6,372.5 L122.8,372.1 L123.0,371.8 L123.2,371.4 L123.4,371.0 L123.6,370.6 L123.8,370.3 L124.0,369.9 L124.2,369.6 L124.4,369.3 L124.6,369.0 L124.8,368.7 L125.0,368.5 L125.2,368.2 L125.4,368.0 L125.6,367.8 L125.8,367.6 L126.0,367.5 L126.2,367.4 L126.4,367.3 L126.6,367.1 L126.8,367.0 L127.0,366.9 L127.2,366.8 L127.4,366.7 L127.6,366.6 L127.8,366.5 L128.0,366.4 L128.2,366.3 L128.4,366.2 L128.6,366.1 L128.8,366.1 L129.0,366.0 L129.2,365.9 L129.4,365.9 L129.6,365.8 L129.8,365.7 L130.0,365.7 L130.2,365.6 L130.4,365.6 L130.6,365.6 L130.8,365.5 L131.0,365.5 L131.2,365.5 L131.4,365.5 L131.6,365.5 L131.8,365.5 L132.0,365.6 L132.2,365.6 L132.4,365.7 L132.6,365.8 L132.8,365.9 L133.0,366.0 L133.2,366.1 L133.4,366.2 L133.6,366.4 L133.8,366.5 L134.0,366.7 L134.2,366.8 L134.4,367.0 L134.6,367.2 L134.8,367.4 L135.0,367.6 L135.2,367.8 L135.4,367.9 L135.6,368.1 L135.8,368.3 L136.0,368.5 L136.2,368.7 L136.4,368.9 L136.6,369.1 L136.8,369.3 L137.0,369.6 L137.2,369.8 L137.4,370.0 L137.6,370.3 L137.8,370.6 L138.0,370.8 L138.2,371.1 L138.4,371.4 L138.6,371.7 L138.8,372.1 L139.0,372.4 L139.2,372.7 L139.4,373.0 L139.6,373.4 L139.8,373.7 L140.0,374.1 L140.2,374.5 L140.4,374.8 L140.6,375.2 L140.8,375.6 L141.0,376.0 L141.2,376.4 L141.4,376.9 L141.6,377.4 L141.8,378.0 L142.0,378.7 L142.2,379.4 L142.4,380.2 L142.6,380.9 L142.8,381.7 L143.0,382.4 L143.2,383.0 L143.4,383.7 L143.6,384.2 L143.8,384.7 L144.0,385.0 L144.2,385.2 L144.4,385.3 L144.6,385.2 L144.8,384.9 L145.0,384.5 L145.2,384.0 L145.4,383.3 L145.6,382.6 L145.8,381.8 L146.0,381.0 L146.2,380.1 L146.4,379.3 L146.6,378.5 L146.8,377.7 L147.0,377.0 L147.2,376.3 L147.4,375.5 L147.6,374.6 L147.8,373.7 L148.0,372.8 L148.2,371.9 L148.4,371.1 L148.6,370.4 L148.8,369.8 L149.0,369.4 L149.2,369.1 L149.4,369.1 L149.6,369.1 L149.8,369.1 L150.0,364.7 L150.2,359.0 L150.4,353.5 L150.6,348.4 L150.8,343.7 L151.0,339.3 L151.2,335.4 L151.4,332.2 L151.6,329.7 L151.8,329.7 L152.0,332.2 L152.2,335.4 L152.4,339.3 L152.6,343.7 L152.8,348.4 L153.0,353.5 L153.2,359.0 L153.4,364.7 L153.6,369.1 L153.8,369.1 L154.0,369.1 L154.2,369.1 L154.4,369.1 L154.6,369.1 L154.8,369.1 L155.0,369.1 L155.2,369.2 L155.4,369.4 L155.6,369.7 L155.8,370.1 L156.0,370.7 L156.2,371.3 L156.4,372.0 L156.6,372.7 L156.8,373.5 L157.0,374.4 L157.2,375.2 L157.4,376.1 L157.6,377.0 L157.8,377.8 L158.0,378.7 L158.2,379.5 L158.4,380.2 L158.6,380.9 L158.8,381.6 L159.0,382.1 L159.2,382.6 L159.4,383.1 L159.6,383.6 L159.8,384.1 L160.0,384.6 L160.2,385.2 L160.4,385.7 L160.6,386.2 L160.8,386.7 L161.0,387.1 L161.2,387.6 L161.4,388.1 L161.6,388.5 L161.8,388.9 L162.0,389.3 L162.2,389.7 L162.4,390.1 L162.6,390.4 L162.8,390.7 L163.0,391.0 L163.2,391.2 L163.4,391.4 L163.6,391.6 L163.8,391.7 L164.0,391.8 L164.2,391.9 L164.4,392.0 L164.6,392.1 L164.8,392.2 L165.0,392.3 L165.2,392.4 L165.4,392.4 L165.6,392.5 L165.8,392.6 L166.0,392.7 L166.2,392.7 L166.4,392.8 L166.6,392.8 L166.8,392.9 L167.0,393.0 L167.2,393.0 L167.4,393.1 L167.6,393.1 L167.8,393.2 L168.0,393.2 L168.2,393.3 L168.4,393.3 L168.6,393.4 L168.8,393.4 L169.0,393.5 L169.2,393.5 L169.4,393.5 L169.6,393.6 L169.8,393.6 L170.0,393.6 L170.2,393.7 L170.4,393.7 L170.6,393.7 L170.8,393.8 L171.0,393.8 L171.2,393.8 L171.4,393.9 L171.6,393.9 L171.8,393.9 L172.0,394.0 L172.2,394.0 L172.4,394.0 L172.6,394.1 L172.8,394.1 L173.0,394.1 L173.2,394.1 L173.4,394.2 L173.6,394.2 L173.8,394.2 L174.0,394.3 L174.2,394.3 L174.4,394.3 L174.6,394.3 L174.8,394.4 L175.0,394.4 L175.2,394.4 L175.4,394.5 L175.6,394.5 L175.8,394.5 L176.0,394.5 L176.2,394.6 L176.4,394.6 L176.6,394.6 L176.8,394.6 L177.0,394.7 L177.2,394.7 L177.4,394.7 L177.6,394.7 L177.8,394.8 L178.0,394.8 L178.2,394.8 L178.4,394.8 L178.6,394.9 L178.8,394.9 L179.0,394.9 L179.2,394.9 L179.4,395.0 L179.6,395.0 L179.8,395.0 L180.0,395.0 L180.2,395.0 L180.4,395.1 L180.6,395.1 L180.8,395.1 L181.0,395.1 L181.2,395.1 L181.4,395.2 L181.6,395.2 L181.8,395.2 L182.0,395.2 L182.2,395.2 L182.4,395.3 L182.6,395.3 L182.8,395.3 L183.0,395.3 L183.2,395.3 L183.4,395.4 L183.6,395.4 L183.8,395.4 L184.0,395.4 L184.2,395.4 L184.4,395.5 L184.6,395.5 L184.8,395.5 L185.0,395.5 L185.2,395.5 L185.4,395.5 L185.6,395.6 L185.8,395.6 L186.0,395.6 L186.2,395.6 L186.4,395.6 L186.6,395.6 L186.8,395.7 L187.0,395.7 L187.2,395.7 L187.4,395.7 L187.6,395.7 L187.8,395.7 L188.0,395.8 L188.2,395.8 L188.4,395.8 L188.6,395.8 L188.8,395.8 L189.0,395.8 L189.2,395.9 L189.4,395.9 L189.6,395.9 L189.8,395.9 L190.0,395.9 L190.2,395.9 L190.4,395.9 L190.6,396.0 L190.8,396.0 L191.0,396.0 L191.2,396.0 L191.4,396.0 L191.6,396.0 L191.8,396.1 L192.0,396.1 L192.2,396.1 L192.4,396.1 L192.6,396.1 L192.8,396.1 L193.0,396.1 L193.2,396.2 L193.4,396.2 L193.6,396.2 L193.8,396.2 L194.0,396.2 L194.2,396.2 L194.4,396.2 L194.6,396.2 L194.8,396.3 L195.0,396.3 L195.2,396.3 L195.4,396.3 L195.6,396.3 L195.8,396.3 L196.0,396.3 L196.2,396.3 L196.4,396.4 L196.6,396.4 L196.8,396.4 L197.0,396.4 L197.2,396.4 L197.4,396.4 L197.6,396.4 L197.8,396.4 L198.0,396.5 L198.2,396.5 L198.4,396.5 L198.6,396.5 L198.8,396.5 L199.0,396.5 L199.2,396.5 L199.4,396.5 L199.6,396.6 L199.8,396.6 L200.0,396.6 L200.2,396.6 L200.4,396.6 L200.6,396.6 L200.8,396.6 L201.0,396.6 L201.2,396.6 L201.4,396.7 L201.6,396.7 L201.8,396.7 L202.0,396.7 L202.2,396.7 L202.4,396.7 L202.6,396.7 L202.8,396.7 L203.0,396.8 L203.2,396.8 L203.4,396.8 L203.6,396.8 L203.8,396.8 L204.0,396.8 L204.2,396.8 L204.4,396.8 L204.6,396.9 L204.8,396.9 L205.0,396.9 L205.2,396.9 L205.4,396.9 L205.6,396.9 L205.8,396.9 L206.0,396.9 L206.2,396.9 L206.4,397.0 L206.6,397.0 L206.8,397.0 L207.0,397.0" fill="none" stroke="#ff9c9c" stroke-width="0.9"/>
<path d="M57.8,392.2V398.4 M58.6,394.5V397.2 M60.2,393.4V397.8 M61.8,392.6V398.1 M62.6,396.7V402.5 M64.2,390.1V394.4 M65.0,390.5V393.7 M67.4,392.1V399.0 M69.0,397.0V404.1 M69.8,397.3V399.8 M70.6,392.9V398.5 M71.4,397.2V401.0 M72.2,394.5V398.2 M73.0,396.4V399.6 M73.8,395.8V403.8 M76.2,392.0V394.3 M77.0,391.8V396.0 M77.8,392.6V395.8 M80.2,388.5V393.6 M81.8,392.2V397.0 M82.6,393.4V396.1 M84.2,394.4V401.3 M85.8,396.1V400.8 M86.6,397.2V402.2 M87.4,397.1V400.2 M88.2,399.9V402.6 M89.0,393.9V399.1 M90.6,394.9V399.5 M96.2,390.6V393.8 M97.0,387.9V391.1 M98.6,392.0V395.1 M99.4,391.6V401.5 M100.2,394.6V399.9 M101.0,391.8V395.4 M101.8,392.9V398.2 M110.6,383.1V386.3 M116.2,389.4V392.6 M161.0,383.9V387.1 M165.0,391.6V394.8 M165.8,387.0V389.0 M167.4,393.0V397.3 M168.2,392.7V399.9 M169.0,390.5V393.4 M169.8,391.3V397.0 M170.6,392.6V395.0 M172.2,390.9V395.0 M173.0,395.4V401.1 M175.4,393.0V398.1 M176.2,390.7V396.5 M177.8,391.1V396.3 M178.6,392.1V395.1 M179.4,392.8V395.0 M180.2,390.9V396.8 M181.0,394.0V397.2 M181.8,394.0V399.8 M185.0,394.7V400.2 M187.4,397.8V401.2 M188.2,393.7V397.5 M189.0,395.4V400.2 M189.8,396.8V399.9 M190.6,394.8V399.8 M191.4,393.3V397.7 M192.2,393.8V397.0 M195.4,398.0V402.9 M196.2,397.2V400.4 M197.0,394.2V395.9 M198.6,393.3V398.1 M200.2,398.9V406.0 M201.0,395.9V401.1 M203.4,395.1V398.7 M204.2,395.1V398.5 M205.0,395.5V398.7" stroke="#5a5ad6" stroke-width="0.65" fill="none" stroke-opacity="0.85"/>
<path d="M104.2,388.7 L105.0,385.8 L105.8,386.8 L106.6,384.8 L107.4,383.6 L108.2,382.9 L109.0,383.1 L109.8,382.8 L110.6,384.3 L111.4,384.7 L112.2,386.5 L113.0,387.5" fill="none" stroke="#4436b8" stroke-width="0.8" stroke-opacity="0.78"/>
<path d="M117.0,385.3 L117.8,382.5 L118.6,380.6 L119.4,379.1 L120.2,377.6 L121.0,375.1 L121.8,373.8 L122.6,372.2 L123.4,370.7 L124.2,369.1 L125.0,368.6 L125.8,367.3 L126.6,367.6 L127.4,367.0 L128.2,366.0 L129.0,365.7 L129.8,365.6 L130.6,366.0 L131.4,365.2 L132.2,365.2 L133.0,366.0 L133.8,366.6 L134.6,367.0 L135.4,368.4 L136.2,368.8 L137.0,369.8 L137.8,370.5 L138.6,372.0 L139.4,373.4 L140.2,374.1 L141.0,376.2 L141.8,376.9 L142.6,379.1 L143.4,380.0 L144.2,381.9 L145.0,381.1 L145.8,379.9 L146.6,378.2 L147.4,375.4 L148.2,371.5 L149.0,369.3 L149.8,369.4 L150.6,352.5 L151.4,336.4 L152.2,339.7 L153.0,357.1 L153.8,369.2 L154.6,369.7 L155.4,369.2 L156.2,370.7 L157.0,374.3 L157.8,377.7 L158.6,381.1 L159.4,382.8 L160.2,385.2 L161.0,385.1" fill="none" stroke="#4436b8" stroke-width="0.8" stroke-opacity="0.78"/>
<path d="M147.7,374.5 L147.8,374.0 L147.9,373.6 L148.0,373.1 L148.1,372.6 L148.2,372.2 L148.3,371.7 L148.4,371.3 L148.5,370.9 L148.6,370.5 L148.7,370.2 L148.8,369.9 L148.9,369.6 L149.0,369.4 L149.1,369.2 L149.2,369.1 L149.3,369.1 L149.4,369.1 L149.5,369.1 L149.6,369.1 L149.7,369.1 L149.8,369.1 L149.9,369.1 L150.0,368.7 L150.1,365.8 L150.2,363.0 L150.3,360.2 L150.4,357.5 L150.5,354.9 L150.6,352.4 L150.7,350.0 L150.8,347.7 L150.9,345.4 L151.0,343.3 L151.1,341.3 L151.2,339.4 L151.3,337.7 L151.4,336.2 L151.5,334.8 L151.6,333.7 L151.7,333.0 L151.8,333.7 L151.9,334.8 L152.0,336.2 L152.1,337.7 L152.2,339.4 L152.3,341.3 L152.4,343.3 L152.5,345.4 L152.6,347.7 L152.7,350.0 L152.8,352.4 L152.9,354.9 L153.0,357.5 L153.1,360.2 L153.2,363.0 L153.3,365.8 L153.4,368.7 L153.5,369.1 L153.6,369.1 L153.7,369.1 L153.8,369.1 L153.9,369.1 L154.0,369.1 L154.1,369.1 L154.2,369.1 L154.3,369.1 L154.4,369.1 L154.5,369.1 L154.6,369.1 L154.7,369.1 L154.8,369.1 L154.9,369.1 L155.0,369.1 L155.1,369.1 L155.2,369.2 L155.3,369.3 L155.4,369.4 L155.5,369.5 L155.6,369.7" fill="none" stroke="#4646c8" stroke-width="0.6" stroke-dasharray="1.2,0.9" stroke-opacity="0.85"/>
<path d="M56.4,396.5h1.3 M57.1,394.0h1.3 M57.9,395.0h1.3 M58.7,393.4h1.3 M59.5,394.1h1.3 M60.3,392.4h1.3 M61.1,393.5h1.3 M61.9,397.3h1.3 M62.7,395.1h1.3 M63.5,391.0h1.3 M64.3,391.7h1.3 M65.1,392.5h1.3 M65.9,393.0h1.3 M66.7,394.6h1.3 M67.5,395.5h1.3 M68.3,398.3h1.3 M69.1,398.5h1.3 M69.9,394.6h1.3 M70.7,398.4h1.3 M71.5,396.8h1.3 M72.3,397.6h1.3 M73.1,397.2h1.3 M73.9,397.5h1.3 M74.7,394.5h1.3 M75.5,392.9h1.3 M76.3,392.9h1.3 M77.1,394.5h1.3 M77.9,392.3h1.3 M78.7,391.6h1.3 M79.5,391.3h1.3 M80.3,396.0h1.3 M81.1,393.0h1.3 M81.9,394.4h1.3 M82.7,394.4h1.3 M83.5,395.7h1.3 M84.3,396.3h1.3 M85.1,399.8h1.3 M85.9,398.1h1.3 M86.7,398.0h1.3 M87.5,400.8h1.3 M88.3,394.5h1.3 M89.1,393.7h1.3 M89.9,396.7h1.3 M90.7,392.4h1.3 M91.5,392.0h1.3 M92.3,390.0h1.3 M93.1,390.8h1.3 M93.9,389.9h1.3 M94.7,389.6h1.3 M95.5,391.8h1.3 M96.3,389.1h1.3 M97.1,391.3h1.3 M97.9,393.6h1.3 M98.7,392.9h1.3 M99.5,395.2h1.3 M100.3,393.4h1.3 M101.1,395.1h1.3 M101.9,390.8h1.3 M102.7,388.0h1.3 M103.5,388.7h1.3 M104.3,385.8h1.3 M105.1,386.8h1.3 M105.9,384.8h1.3 M106.7,383.6h1.3 M107.5,382.9h1.3 M108.3,383.1h1.3 M109.1,382.8h1.3 M109.9,384.3h1.3 M110.7,384.7h1.3 M111.5,386.5h1.3 M112.3,387.5h1.3 M113.1,389.6h1.3 M113.9,389.3h1.3 M114.7,392.0h1.3 M115.5,390.6h1.3 M116.3,385.3h1.3 M117.1,382.5h1.3 M117.9,380.6h1.3 M118.7,379.1h1.3 M119.5,377.6h1.3 M120.3,375.1h1.3 M121.1,373.8h1.3 M121.9,372.2h1.3 M122.7,370.7h1.3 M123.5,369.1h1.3 M124.3,368.6h1.3 M125.1,367.3h1.3 M125.9,367.6h1.3 M126.7,367.0h1.3 M127.5,366.0h1.3 M128.3,365.7h1.3 M129.1,365.6h1.3 M129.9,366.0h1.3 M130.7,365.2h1.3 M131.5,365.2h1.3 M132.3,366.0h1.3 M133.1,366.6h1.3 M133.9,367.0h1.3 M134.7,368.4h1.3 M135.5,368.8h1.3 M136.3,369.8h1.3 M137.1,370.5h1.3 M137.9,372.0h1.3 M138.7,373.4h1.3 M139.5,374.1h1.3 M140.3,376.2h1.3 M141.1,376.9h1.3 M141.9,379.1h1.3 M142.7,380.0h1.3 M143.5,381.9h1.3 M144.3,381.1h1.3 M145.1,379.9h1.3 M145.9,378.2h1.3 M146.7,375.4h1.3 M147.5,371.5h1.3 M148.3,369.3h1.3 M149.1,369.4h1.3 M149.9,352.5h1.3 M150.7,336.4h1.3 M151.5,339.7h1.3 M152.3,357.1h1.3 M153.1,369.2h1.3 M153.9,369.7h1.3 M154.7,369.2h1.3 M155.5,370.7h1.3 M156.3,374.3h1.3 M157.1,377.7h1.3 M157.9,381.1h1.3 M158.7,382.8h1.3 M159.5,385.2h1.3 M160.3,385.1h1.3 M161.1,389.7h1.3 M161.9,391.8h1.3 M162.7,392.6h1.3 M163.5,390.6h1.3 M164.3,392.8h1.3 M165.1,387.8h1.3 M165.9,391.3h1.3 M166.7,393.6h1.3 M167.5,393.5h1.3 M168.3,391.6h1.3 M169.1,393.6h1.3 M169.9,393.4h1.3 M170.7,394.7h1.3 M171.5,393.1h1.3 M172.3,395.9h1.3 M173.1,392.0h1.3 M173.9,395.2h1.3 M174.7,393.8h1.3 M175.5,392.7h1.3 M176.3,395.1h1.3 M177.1,391.7h1.3 M177.9,393.0h1.3 M178.7,393.9h1.3 M179.5,394.6h1.3 M180.3,395.2h1.3 M181.1,396.9h1.3 M181.9,395.4h1.3 M182.7,393.8h1.3 M183.5,395.5h1.3 M184.3,396.7h1.3 M185.1,395.9h1.3 M185.9,396.9h1.3 M186.7,398.7h1.3 M187.5,394.6h1.3 M188.3,397.1h1.3 M189.1,397.8h1.3 M189.9,395.4h1.3 M190.7,396.0h1.3 M191.5,395.0h1.3 M192.3,393.8h1.3 M193.1,395.0h1.3 M193.9,397.9h1.3 M194.7,399.1h1.3 M195.5,398.4h1.3 M196.3,394.7h1.3 M197.1,396.9h1.3 M197.9,394.2h1.3 M198.7,398.8h1.3 M199.5,399.8h1.3 M200.3,398.0h1.3 M201.1,396.5h1.3 M201.9,397.9h1.3 M202.7,397.0h1.3 M203.5,396.8h1.3 M204.3,396.7h1.3 M205.1,399.4h1.3 M205.9,396.8h1.3" stroke="#3a30ae" stroke-width="1.2" fill="none" stroke-opacity="0.82"/>
<path d="M45.5,424.0 L45.7,423.9 L45.9,423.9 L46.1,423.8 L46.3,423.8 L46.5,423.7 L46.7,423.6 L46.9,423.6 L47.1,423.5 L47.3,423.4 L47.5,423.4 L47.7,423.3 L47.9,423.2 L48.1,423.1 L48.3,423.1 L48.5,423.0 L48.7,422.9 L48.9,422.8 L49.1,422.8 L49.3,422.7 L49.5,422.6 L49.7,422.6 L49.9,422.5 L50.1,422.4 L50.3,422.4 L50.5,422.3 L50.7,422.2 L50.9,422.2 L51.1,422.1 L51.3,422.0 L51.5,422.0 L51.7,421.9 L51.9,421.9 L52.1,421.8 L52.3,421.8 L52.5,421.7 L52.7,421.7 L52.9,421.7 L53.1,421.6 L53.3,421.6 L53.5,421.6 L53.7,421.5 L53.9,421.5 L54.1,421.5 L54.3,421.5 L54.5,421.5 L54.7,421.5 L54.9,421.5 L55.1,421.6 L55.3,421.6 L55.5,421.7 L55.7,421.7 L55.9,421.8 L56.1,421.9 L56.3,422.0 L56.5,422.1 L56.7,422.3 L56.9,422.4 L57.1,422.5 L57.3,422.7 L57.5,422.8 L57.7,423.0 L57.9,423.1 L58.1,423.3 L58.3,423.5 L58.5,423.6 L58.7,423.8 L58.9,423.9 L59.1,424.1 L59.3,424.2 L59.5,424.4 L59.7,424.5 L59.9,424.7 L60.1,424.8 L60.3,424.9 L60.5,425.0 L60.7,425.1 L60.9,425.2 L61.1,425.3 L61.3,425.4 L61.5,425.4 L61.7,425.5 L61.9,425.5 L62.1,425.5 L62.3,425.5 L62.5,425.5 L62.7,425.5 L62.9,425.5 L63.1,425.5 L63.3,425.5 L63.5,425.5 L63.7,425.5 L63.9,425.5 L64.1,425.5 L64.3,425.5 L64.5,425.4 L64.7,425.4 L64.9,425.4 L65.1,425.4 L65.3,425.4 L65.5,425.4 L65.7,425.4 L65.9,425.4 L66.1,425.4 L66.3,425.3 L66.5,425.3 L66.7,425.3 L66.9,425.3 L67.1,425.3 L67.3,425.3 L67.5,425.3 L67.7,425.2 L67.9,425.2 L68.1,425.2 L68.3,425.2 L68.5,425.2 L68.7,425.1 L68.9,425.1 L69.1,425.1 L69.3,425.1 L69.5,425.1 L69.7,425.0 L69.9,425.0 L70.1,425.0 L70.3,425.0 L70.5,425.0 L70.7,424.9 L70.9,424.9 L71.1,424.9 L71.3,424.9 L71.5,424.8 L71.7,424.8 L71.9,424.8 L72.1,424.8 L72.3,424.7 L72.5,424.7 L72.7,424.7 L72.9,424.6 L73.1,424.6 L73.3,424.6 L73.5,424.6 L73.7,424.5 L73.9,424.5 L74.1,424.5 L74.3,424.5 L74.5,424.4 L74.7,424.4 L74.9,424.4 L75.1,424.3 L75.3,424.3 L75.5,424.3 L75.7,424.2 L75.9,424.2 L76.1,424.2 L76.3,424.2 L76.5,424.1 L76.7,424.1 L76.9,424.1 L77.1,424.0 L77.3,424.0 L77.5,424.0 L77.7,423.9 L77.9,423.9 L78.1,423.8 L78.3,423.8 L78.5,423.7 L78.7,423.7 L78.9,423.6 L79.1,423.6 L79.3,423.5 L79.5,423.4 L79.7,423.4 L79.9,423.3 L80.1,423.2 L80.3,423.1 L80.5,423.1 L80.7,423.0 L80.9,422.9 L81.1,422.8 L81.3,422.7 L81.5,422.6 L81.7,422.5 L81.9,422.5 L82.1,422.4 L82.3,422.3 L82.5,422.2 L82.7,422.1 L82.9,422.0 L83.1,421.9 L83.3,421.8 L83.5,421.7 L83.7,421.6 L83.9,421.5 L84.1,421.4 L84.3,421.3 L84.5,421.2 L84.7,421.1 L84.9,421.0 L85.1,420.9 L85.3,420.8 L85.5,420.7 L85.7,420.6 L85.9,420.5 L86.1,420.4 L86.3,420.3 L86.5,420.2 L86.7,420.1 L86.9,420.0 L87.1,419.9 L87.3,419.9 L87.5,419.8 L87.7,419.7 L87.9,419.6 L88.1,419.5 L88.3,419.5 L88.5,419.4 L88.7,419.3 L88.9,419.2 L89.1,419.2 L89.3,419.1 L89.5,419.1 L89.7,419.0 L89.9,418.9 L90.1,418.9 L90.3,418.8 L90.5,418.8 L90.7,418.8 L90.9,418.7 L91.1,418.7 L91.3,418.7 L91.5,418.6 L91.7,418.6 L91.9,418.6 L92.1,418.6 L92.3,418.6 L92.5,418.6 L92.7,418.6 L92.9,418.6 L93.1,418.7 L93.3,418.7 L93.5,418.8 L93.7,418.9 L93.9,419.0 L94.1,419.1 L94.3,419.2 L94.5,419.3 L94.7,419.4 L94.9,419.6 L95.1,419.7 L95.3,419.8 L95.5,420.0 L95.7,420.2 L95.9,420.3 L96.1,420.5 L96.3,420.7 L96.5,420.9 L96.7,421.0 L96.9,421.2 L97.1,421.4 L97.3,421.6 L97.5,421.8 L97.7,422.0 L97.9,422.2 L98.1,422.4 L98.3,422.6 L98.5,422.8 L98.7,423.0 L98.9,423.1 L99.1,423.3 L99.3,423.5 L99.5,423.7 L99.7,423.8 L99.9,424.0 L100.1,424.2 L100.3,424.3 L100.5,424.4 L100.7,424.6 L100.9,424.7 L101.1,424.8 L101.3,424.9 L101.5,425.0 L101.7,425.1 L101.9,425.2 L102.1,425.3 L102.3,425.3 L102.5,425.4 L102.7,425.4 L102.9,425.4 L103.1,425.4 L103.3,425.3 L103.5,425.1 L103.7,424.8 L103.9,424.5 L104.1,424.1 L104.3,423.6 L104.5,423.1 L104.7,422.5 L104.9,422.0 L105.1,421.3 L105.3,420.7 L105.5,420.1 L105.7,419.4 L105.9,418.8 L106.1,418.2 L106.3,417.6 L106.5,417.1 L106.7,416.6 L106.9,416.1 L107.1,415.7 L107.3,415.4 L107.5,415.1 L107.7,414.8 L107.9,414.6 L108.1,414.3 L108.3,414.0 L108.5,413.8 L108.7,413.5 L108.9,413.2 L109.1,413.0 L109.3,412.8 L109.5,412.5 L109.7,412.3 L109.9,412.1 L110.1,411.9 L110.3,411.6 L110.5,411.4 L110.7,411.2 L110.9,411.0 L111.1,410.8 L111.3,410.6 L111.5,410.5 L111.7,410.3 L111.9,410.1 L112.1,409.9 L112.3,409.8 L112.5,409.6 L112.7,409.4 L112.9,409.3 L113.1,409.1 L113.3,409.0 L113.5,408.8 L113.7,408.7 L113.9,408.5 L114.1,408.4 L114.3,408.2 L114.5,408.1 L114.7,408.0 L114.9,407.8 L115.1,407.7 L115.3,407.6 L115.5,407.5 L115.7,407.3 L115.9,407.2 L116.1,407.1 L116.3,407.0 L116.5,406.9 L116.7,406.7 L116.9,406.6 L117.1,406.5 L117.3,406.4 L117.5,406.3 L117.7,406.2 L117.9,406.1 L118.1,406.0 L118.3,405.9 L118.5,405.8 L118.7,405.7 L118.9,405.6 L119.1,405.5 L119.3,405.4 L119.5,405.3 L119.7,405.2 L119.9,405.2 L120.1,405.1 L120.3,405.0 L120.5,404.9 L120.7,404.9 L120.9,404.8 L121.1,404.7 L121.3,404.7 L121.5,404.6 L121.7,404.5 L121.9,404.5 L122.1,404.4 L122.3,404.4 L122.5,404.3 L122.7,404.2 L122.9,404.2 L123.1,404.1 L123.3,404.1 L123.5,404.0 L123.7,404.0 L123.9,403.9 L124.1,403.8 L124.3,403.8 L124.5,403.7 L124.7,403.7 L124.9,403.6 L125.1,403.6 L125.3,403.5 L125.5,403.5 L125.7,403.4 L125.9,403.4 L126.1,403.3 L126.3,403.3 L126.5,403.2 L126.7,403.2 L126.9,403.1 L127.1,403.1 L127.3,403.1 L127.5,403.0 L127.7,403.0 L127.9,403.0 L128.1,402.9 L128.3,402.9 L128.5,402.9 L128.7,402.8 L128.9,402.8 L129.1,402.8 L129.3,402.8 L129.5,402.8 L129.7,402.7 L129.9,402.7 L130.1,402.7 L130.3,402.7 L130.5,402.7 L130.7,402.7 L130.9,402.7 L131.1,402.7 L131.3,402.7 L131.5,402.7 L131.7,402.7 L131.9,402.8 L132.1,402.8 L132.3,402.8 L132.5,402.8 L132.7,402.9 L132.9,402.9 L133.1,402.9 L133.3,403.0 L133.5,403.0 L133.7,403.0 L133.9,403.1 L134.1,403.1 L134.3,403.2 L134.5,403.2 L134.7,403.3 L134.9,403.3 L135.1,403.3 L135.3,403.4 L135.5,403.5 L135.7,403.5 L135.9,403.6 L136.1,403.6 L136.3,403.7 L136.5,403.7 L136.7,403.8 L136.9,403.8 L137.1,403.9 L137.3,403.9 L137.5,404.0 L137.7,404.0 L137.9,404.1 L138.1,404.1 L138.3,404.2 L138.5,404.2 L138.7,404.3 L138.9,404.3 L139.1,404.4 L139.3,404.4 L139.5,404.4 L139.7,404.5 L139.9,404.5 L140.1,404.5 L140.3,404.6 L140.5,404.6 L140.7,404.6 L140.9,404.7 L141.1,404.7 L141.3,404.8 L141.5,404.8 L141.7,404.8 L141.9,404.9 L142.1,404.9 L142.3,404.9 L142.5,405.0 L142.7,405.0 L142.9,405.1 L143.1,405.1 L143.3,405.1 L143.5,405.2 L143.7,405.2 L143.9,405.2 L144.1,405.2 L144.3,405.3 L144.5,405.3 L144.7,405.3 L144.9,405.3 L145.1,405.4 L145.3,405.4 L145.5,405.4 L145.7,405.4 L145.9,405.4 L146.1,405.4 L146.3,405.4 L146.5,405.3 L146.7,405.2 L146.9,405.1 L147.1,405.0 L147.3,404.8 L147.5,404.6 L147.7,404.4 L147.9,404.2 L148.1,404.0 L148.3,403.9 L148.5,403.8 L148.7,403.7 L148.9,403.6 L149.1,403.6 L149.3,403.6 L149.5,403.7 L149.7,402.9 L149.9,396.7 L150.1,390.8 L150.3,385.2 L150.5,379.9 L150.7,375.0 L150.9,370.4 L151.1,366.3 L151.3,362.7 L151.5,359.8 L151.7,358.0 L151.9,359.8 L152.1,362.7 L152.3,366.3 L152.5,370.4 L152.7,375.0 L152.9,379.9 L153.1,385.2 L153.3,390.8 L153.5,396.7 L153.7,402.9 L153.9,409.1 L154.1,409.4 L154.3,409.7 L154.5,410.0 L154.7,410.3 L154.9,410.7 L155.1,411.0 L155.3,411.4 L155.5,411.8 L155.7,412.2 L155.9,412.6 L156.1,413.1 L156.3,413.5 L156.5,414.0 L156.7,414.4 L156.9,414.8 L157.1,415.3 L157.3,415.7 L157.5,416.1 L157.7,416.5 L157.9,416.9 L158.1,417.2 L158.3,417.5 L158.5,417.9 L158.7,418.3 L158.9,418.7 L159.1,419.0 L159.3,419.4 L159.5,419.8 L159.7,420.2 L159.9,420.5 L160.1,420.8 L160.3,421.2 L160.5,421.5 L160.7,421.7 L160.9,422.0 L161.1,422.2 L161.3,422.4 L161.5,422.5 L161.7,422.6 L161.9,422.6 L162.1,422.7 L162.3,422.7 L162.5,422.7 L162.7,422.8 L162.9,422.8 L163.1,422.8 L163.3,422.8 L163.5,422.9 L163.7,422.9 L163.9,422.9 L164.1,422.9 L164.3,423.0 L164.5,423.0 L164.7,423.0 L164.9,423.0 L165.1,423.0 L165.3,423.1 L165.5,423.1 L165.7,423.1 L165.9,423.1 L166.1,423.1 L166.3,423.1 L166.5,423.2 L166.7,423.2 L166.9,423.2 L167.1,423.2 L167.3,423.2 L167.5,423.2 L167.7,423.2 L167.9,423.2 L168.1,423.3 L168.3,423.3 L168.5,423.3 L168.7,423.3 L168.9,423.3 L169.1,423.3 L169.3,423.3 L169.5,423.3 L169.7,423.3 L169.9,423.3 L170.1,423.4 L170.3,423.4 L170.5,423.4 L170.7,423.4 L170.9,423.4 L171.1,423.4 L171.3,423.4 L171.5,423.4 L171.7,423.4 L171.9,423.5 L172.1,423.5 L172.3,423.5 L172.5,423.5 L172.7,423.5 L172.9,423.5 L173.1,423.5 L173.3,423.5 L173.5,423.6 L173.7,423.6 L173.9,423.6 L174.1,423.6 L174.3,423.6 L174.5,423.6 L174.7,423.6 L174.9,423.7 L175.1,423.7 L175.3,423.7 L175.5,423.7 L175.7,423.7 L175.9,423.7 L176.1,423.7 L176.3,423.8 L176.5,423.8 L176.7,423.8 L176.9,423.8 L177.1,423.8 L177.3,423.8 L177.5,423.8 L177.7,423.8 L177.9,423.9 L178.1,423.9 L178.3,423.9 L178.5,423.9 L178.7,423.9 L178.9,423.9 L179.1,423.9 L179.3,423.9 L179.5,424.0 L179.7,424.0 L179.9,424.0 L180.1,424.0 L180.3,424.0 L180.5,424.0 L180.7,424.0 L180.9,424.0 L181.1,424.1 L181.3,424.1 L181.5,424.1 L181.7,424.1 L181.9,424.1 L182.1,424.1 L182.3,424.1 L182.5,424.1 L182.7,424.1 L182.9,424.2 L183.1,424.2 L183.3,424.2 L183.5,424.2 L183.7,424.2 L183.9,424.2 L184.1,424.2 L184.3,424.2 L184.5,424.3 L184.7,424.3 L184.9,424.3 L185.1,424.3 L185.3,424.3 L185.5,424.3 L185.7,424.3 L185.9,424.3 L186.1,424.3 L186.3,424.4 L186.5,424.4 L186.7,424.4 L186.9,424.4 L187.1,424.4 L187.3,424.4 L187.5,424.4 L187.7,424.4 L187.9,424.4 L188.1,424.5 L188.3,424.5 L188.5,424.5 L188.7,424.5 L188.9,424.5 L189.1,424.5 L189.3,424.5 L189.5,424.5 L189.7,424.5 L189.9,424.6 L190.1,424.6 L190.3,424.6 L190.5,424.6 L190.7,424.6 L190.9,424.6 L191.1,424.6 L191.3,424.6 L191.5,424.6 L191.7,424.7 L191.9,424.7 L192.1,424.7 L192.3,424.7 L192.5,424.7 L192.7,424.7 L192.9,424.7 L193.1,424.7 L193.3,424.7 L193.5,424.8 L193.7,424.8 L193.9,424.8 L194.1,424.8 L194.3,424.8 L194.5,424.8 L194.7,424.8 L194.9,424.8 L195.1,424.8 L195.3,424.8 L195.5,424.9 L195.7,424.9 L195.9,424.9 L196.1,424.9 L196.3,424.9 L196.5,424.9 L196.7,424.9 L196.9,424.9 L197.1,424.9 L197.3,425.0 L197.5,425.0 L197.7,425.0 L197.9,425.0 L198.1,425.0 L198.3,425.0 L198.5,425.0 L198.7,425.0 L198.9,425.0 L199.1,425.1 L199.3,425.1 L199.5,425.1 L199.7,425.1 L199.9,425.1 L200.1,425.1 L200.3,425.1 L200.5,425.1 L200.7,425.1 L200.9,425.2 L201.1,425.2 L201.3,425.2 L201.5,425.2 L201.7,425.2 L201.9,425.2 L202.1,425.2 L202.3,425.2 L202.5,425.2 L202.7,425.3 L202.9,425.3 L203.1,425.3 L203.3,425.3 L203.5,425.3 L203.7,425.3 L203.9,425.3 L204.1,425.3 L204.3,425.3 L204.5,425.4 L204.7,425.4 L204.9,425.4 L205.1,425.4 L205.3,425.4 L205.5,425.4 L205.7,425.4 L205.9,425.4 L206.1,425.4 L206.3,425.5 L206.5,425.5 L206.7,425.5 L206.9,425.5 L207.1,425.5" fill="none" stroke="#ff9c9c" stroke-width="0.9"/>
<path d="M45.5,422.5V428.8 M47.1,425.6V428.2 M47.9,421.0V427.5 M48.7,423.9V426.2 M49.5,420.7V425.7 M50.3,420.9V424.4 M51.1,423.0V428.5 M51.9,421.4V424.6 M52.7,419.5V423.7 M53.5,422.7V429.7 M54.3,422.0V429.1 M55.1,420.7V426.7 M56.7,420.8V427.4 M57.5,422.9V427.6 M58.3,418.5V424.4 M59.1,424.3V427.5 M59.9,425.3V430.0 M61.5,424.3V428.8 M62.3,423.3V426.3 M63.1,427.0V431.9 M63.9,421.8V424.9 M64.7,424.7V430.0 M66.3,423.4V431.2 M67.1,424.9V429.3 M67.9,425.4V429.2 M69.5,424.9V431.4 M71.1,423.3V425.6 M71.9,424.0V427.4 M72.7,423.7V427.2 M75.1,421.6V429.7 M75.9,425.2V428.2 M76.7,422.2V425.4 M77.5,420.5V428.3 M78.3,420.3V424.1 M79.9,422.1V427.6 M81.5,424.0V429.1 M82.3,421.7V428.1 M83.1,422.6V428.0 M86.3,420.7V425.5 M87.1,418.4V423.8 M87.9,419.6V425.4 M88.7,425.1V428.3 M89.5,419.9V425.1 M91.1,420.3V423.5 M91.9,420.1V423.3 M92.7,419.3V422.5 M94.3,422.2V424.4 M95.1,419.1V423.9 M95.9,421.5V424.7 M98.3,419.8V422.7 M99.1,421.9V425.1 M100.7,424.1V427.3 M102.3,423.5V429.8 M103.1,426.3V428.6 M103.9,422.5V425.6 M105.5,418.1V421.3 M158.3,416.0V419.2 M160.7,423.2V426.4 M163.1,420.2V424.1 M164.7,420.0V424.4 M165.5,421.3V424.3 M167.1,422.9V427.3 M167.9,422.8V425.4 M168.7,421.9V425.1 M169.5,423.4V426.2 M170.3,420.0V425.7 M171.1,418.8V423.1 M171.9,420.4V427.2 M172.7,420.8V424.5 M174.3,420.2V423.4 M176.7,423.6V425.9 M177.5,419.9V424.3 M178.3,419.1V426.3 M179.1,420.8V424.0 M179.9,420.6V428.0 M180.7,421.0V426.3 M181.5,421.8V424.3 M182.3,421.8V428.5 M183.1,421.8V425.0 M184.7,424.2V428.6 M185.5,421.8V424.8 M187.1,422.1V426.3 M187.9,424.0V427.1 M189.5,423.2V426.4 M191.1,427.9V429.7 M191.9,424.1V426.5 M192.7,425.5V429.3 M195.1,424.8V428.2 M195.9,424.9V428.2 M196.7,420.6V426.1 M197.5,422.2V429.7 M200.7,423.6V431.8 M201.5,427.0V430.2 M202.3,424.0V430.6 M203.9,424.9V427.0 M204.7,423.3V429.0 M205.5,426.2V429.4 M206.3,418.6V423.4 M207.1,425.2V430.0" stroke="#5a5ad6" stroke-width="0.65" fill="none" stroke-opacity="0.85"/>
<path d="M107.1,414.8 L107.9,415.7 L108.7,413.2 L109.5,412.9 L110.3,411.5 L111.1,410.8 L111.9,409.9 L112.7,409.9 L113.5,408.9 L114.3,408.2 L115.1,407.4 L115.9,407.0 L116.7,406.9 L117.5,406.8 L118.3,405.5 L119.1,405.2 L119.9,405.1 L120.7,404.7 L121.5,404.1 L122.3,404.4 L123.1,404.3 L123.9,403.4 L124.7,403.7 L125.5,403.8 L126.3,403.6 L127.1,403.0 L127.9,403.6 L128.7,403.0 L129.5,402.5 L130.3,403.0 L131.1,402.4 L131.9,403.0 L132.7,402.5 L133.5,403.2 L134.3,403.0 L135.1,403.7 L135.9,403.8 L136.7,403.9 L137.5,404.0 L138.3,404.5 L139.1,403.8 L139.9,404.6 L140.7,404.8 L141.5,405.0 L142.3,405.2 L143.1,406.2 L143.9,405.3 L144.7,405.6 L145.5,405.4 L146.3,405.9 L147.1,404.4 L147.9,404.7 L148.7,403.5 L149.5,403.0 L150.3,388.9 L151.1,370.3 L151.9,363.8 L152.7,379.0 L153.5,401.0 L154.3,409.7 L155.1,411.0 L155.9,410.7 L156.7,414.8 L157.5,417.0" fill="none" stroke="#4436b8" stroke-width="0.8" stroke-opacity="0.78"/>
<path d="M147.7,404.4 L147.8,404.3 L147.9,404.2 L148.0,404.1 L148.1,404.0 L148.2,404.0 L148.3,403.9 L148.4,403.8 L148.5,403.8 L148.6,403.7 L148.7,403.7 L148.8,403.6 L148.9,403.6 L149.0,403.6 L149.1,403.6 L149.2,403.6 L149.3,403.6 L149.4,403.7 L149.5,403.7 L149.6,403.7 L149.7,403.8 L149.8,403.8 L149.9,400.7 L150.0,397.7 L150.1,394.8 L150.2,392.0 L150.3,389.2 L150.4,386.5 L150.5,383.9 L150.6,381.4 L150.7,379.0 L150.8,376.7 L150.9,374.4 L151.0,372.3 L151.1,370.3 L151.2,368.4 L151.3,366.7 L151.4,365.2 L151.5,363.8 L151.6,362.7 L151.7,362.0 L151.8,362.7 L151.9,363.8 L152.0,365.2 L152.1,366.7 L152.2,368.4 L152.3,370.3 L152.4,372.3 L152.5,374.4 L152.6,376.7 L152.7,379.0 L152.8,381.4 L152.9,383.9 L153.0,386.5 L153.1,389.2 L153.2,392.0 L153.3,394.8 L153.4,397.7 L153.5,400.7 L153.6,403.8 L153.7,406.9 L153.8,408.9 L153.9,409.1 L154.0,409.2 L154.1,409.4 L154.2,409.5 L154.3,409.7 L154.4,409.8 L154.5,410.0 L154.6,410.2 L154.7,410.3 L154.8,410.5 L154.9,410.7 L155.0,410.8 L155.1,411.0 L155.2,411.2 L155.3,411.4 L155.4,411.6 L155.5,411.8 L155.6,412.0" fill="none" stroke="#4646c8" stroke-width="0.6" stroke-dasharray="1.2,0.9" stroke-opacity="0.85"/>
<path d="M44.9,423.7h1.3 M45.6,423.6h1.3 M46.4,427.2h1.3 M47.2,422.2h1.3 M48.0,425.1h1.3 M48.8,422.1h1.3 M49.6,421.7h1.3 M50.4,423.7h1.3 M51.2,422.6h1.3 M52.0,421.1h1.3 M52.8,423.7h1.3 M53.6,423.9h1.3 M54.4,422.7h1.3 M55.2,425.5h1.3 M56.0,422.6h1.3 M56.8,424.1h1.3 M57.6,421.1h1.3 M58.4,425.3h1.3 M59.2,426.8h1.3 M60.0,425.4h1.3 M60.8,425.0h1.3 M61.6,424.9h1.3 M62.4,428.0h1.3 M63.2,423.1h1.3 M64.0,426.2h1.3 M64.8,423.3h1.3 M65.6,424.0h1.3 M66.4,426.6h1.3 M67.2,427.0h1.3 M68.0,424.6h1.3 M68.8,425.9h1.3 M69.6,429.0h1.3 M70.4,424.4h1.3 M71.2,425.1h1.3 M72.0,425.8h1.3 M72.8,423.6h1.3 M73.6,422.6h1.3 M74.4,423.4h1.3 M75.2,426.0h1.3 M76.0,423.4h1.3 M76.8,422.1h1.3 M77.6,421.0h1.3 M78.4,424.5h1.3 M79.2,423.6h1.3 M80.0,424.7h1.3 M80.8,425.8h1.3 M81.6,423.4h1.3 M82.4,423.9h1.3 M83.2,422.9h1.3 M84.0,422.8h1.3 M84.8,420.0h1.3 M85.6,421.6h1.3 M86.4,419.6h1.3 M87.2,420.2h1.3 M88.0,425.9h1.3 M88.8,422.0h1.3 M89.6,419.1h1.3 M90.4,421.5h1.3 M91.2,421.3h1.3 M92.0,420.5h1.3 M92.8,419.4h1.3 M93.6,423.1h1.3 M94.4,421.7h1.3 M95.2,422.7h1.3 M96.0,422.2h1.3 M96.8,422.4h1.3 M97.6,421.1h1.3 M98.4,423.1h1.3 M99.2,422.7h1.3 M100.0,425.3h1.3 M100.8,426.3h1.3 M101.6,425.1h1.3 M102.4,427.0h1.3 M103.2,423.0h1.3 M104.0,423.4h1.3 M104.8,419.3h1.3 M105.6,417.6h1.3 M106.4,414.8h1.3 M107.2,415.7h1.3 M108.0,413.2h1.3 M108.8,412.9h1.3 M109.6,411.5h1.3 M110.4,410.8h1.3 M111.2,409.9h1.3 M112.0,409.9h1.3 M112.8,408.9h1.3 M113.6,408.2h1.3 M114.4,407.4h1.3 M115.2,407.0h1.3 M116.0,406.9h1.3 M116.8,406.8h1.3 M117.6,405.5h1.3 M118.4,405.2h1.3 M119.2,405.1h1.3 M120.0,404.7h1.3 M120.8,404.1h1.3 M121.6,404.4h1.3 M122.4,404.3h1.3 M123.2,403.4h1.3 M124.0,403.7h1.3 M124.8,403.8h1.3 M125.6,403.6h1.3 M126.4,403.0h1.3 M127.2,403.6h1.3 M128.0,403.0h1.3 M128.8,402.5h1.3 M129.6,403.0h1.3 M130.4,402.4h1.3 M131.2,403.0h1.3 M132.0,402.5h1.3 M132.8,403.2h1.3 M133.6,403.0h1.3 M134.4,403.7h1.3 M135.2,403.8h1.3 M136.0,403.9h1.3 M136.8,404.0h1.3 M137.6,404.5h1.3 M138.4,403.8h1.3 M139.2,404.6h1.3 M140.0,404.8h1.3 M140.8,405.0h1.3 M141.6,405.2h1.3 M142.4,406.2h1.3 M143.2,405.3h1.3 M144.0,405.6h1.3 M144.8,405.4h1.3 M145.6,405.9h1.3 M146.4,404.4h1.3 M147.2,404.7h1.3 M148.0,403.5h1.3 M148.8,403.0h1.3 M149.6,388.9h1.3 M150.4,370.3h1.3 M151.2,363.8h1.3 M152.0,379.0h1.3 M152.8,401.0h1.3 M153.6,409.7h1.3 M154.4,411.0h1.3 M155.2,410.7h1.3 M156.0,414.8h1.3 M156.8,417.0h1.3 M157.6,417.2h1.3 M158.4,417.3h1.3 M159.2,418.4h1.3 M160.0,424.4h1.3 M160.8,421.5h1.3 M161.6,421.6h1.3 M162.4,421.5h1.3 M163.2,421.5h1.3 M164.0,420.6h1.3 M164.8,422.8h1.3 M165.6,423.4h1.3 M166.4,423.5h1.3 M167.2,424.0h1.3 M168.0,423.1h1.3 M168.8,424.1h1.3 M169.6,421.0h1.3 M170.4,421.2h1.3 M171.2,423.1h1.3 M172.0,422.0h1.3 M172.8,421.9h1.3 M173.6,422.1h1.3 M174.4,424.6h1.3 M175.2,424.4h1.3 M176.0,424.5h1.3 M176.8,422.8h1.3 M177.6,420.8h1.3 M178.4,421.8h1.3 M179.2,422.3h1.3 M180.0,422.8h1.3 M180.8,422.6h1.3 M181.6,423.3h1.3 M182.4,423.0h1.3 M183.2,422.7h1.3 M184.0,425.7h1.3 M184.8,422.5h1.3 M185.6,422.0h1.3 M186.4,423.4h1.3 M187.2,425.2h1.3 M188.0,425.1h1.3 M188.8,424.7h1.3 M189.6,424.3h1.3 M190.4,428.7h1.3 M191.2,424.7h1.3 M192.0,426.0h1.3 M192.8,424.1h1.3 M193.6,425.8h1.3 M194.4,426.7h1.3 M195.2,425.8h1.3 M196.0,422.5h1.3 M196.8,423.5h1.3 M197.6,427.1h1.3 M198.4,426.3h1.3 M199.2,426.7h1.3 M200.0,425.5h1.3 M200.8,428.2h1.3 M201.6,425.2h1.3 M202.4,425.0h1.3 M203.2,425.7h1.3 M204.0,424.4h1.3 M204.8,427.4h1.3 M205.6,421.5h1.3 M206.4,426.1h1.3" stroke="#3a30ae" stroke-width="1.2" fill="none" stroke-opacity="0.82"/>
<path d="M45.5,445.0 L45.7,445.0 L45.9,445.1 L46.1,445.1 L46.3,445.2 L46.5,445.2 L46.7,445.2 L46.9,445.3 L47.1,445.3 L47.3,445.4 L47.5,445.4 L47.7,445.5 L47.9,445.5 L48.1,445.6 L48.3,445.6 L48.5,445.6 L48.7,445.7 L48.9,445.7 L49.1,445.8 L49.3,445.8 L49.5,445.9 L49.7,445.9 L49.9,446.0 L50.1,446.0 L50.3,446.1 L50.5,446.1 L50.7,446.2 L50.9,446.2 L51.1,446.3 L51.3,446.3 L51.5,446.4 L51.7,446.4 L51.9,446.5 L52.1,446.5 L52.3,446.6 L52.5,446.6 L52.7,446.7 L52.9,446.7 L53.1,446.7 L53.3,446.8 L53.5,446.8 L53.7,446.9 L53.9,446.9 L54.1,446.9 L54.3,447.0 L54.5,447.0 L54.7,447.1 L54.9,447.1 L55.1,447.1 L55.3,447.2 L55.5,447.2 L55.7,447.2 L55.9,447.3 L56.1,447.3 L56.3,447.3 L56.5,447.3 L56.7,447.4 L56.9,447.4 L57.1,447.4 L57.3,447.4 L57.5,447.4 L57.7,447.4 L57.9,447.5 L58.1,447.5 L58.3,447.5 L58.5,447.5 L58.7,447.5 L58.9,447.5 L59.1,447.5 L59.3,447.5 L59.5,447.5 L59.7,447.5 L59.9,447.5 L60.1,447.4 L60.3,447.4 L60.5,447.4 L60.7,447.3 L60.9,447.3 L61.1,447.2 L61.3,447.2 L61.5,447.1 L61.7,447.1 L61.9,447.0 L62.1,446.9 L62.3,446.9 L62.5,446.8 L62.7,446.7 L62.9,446.6 L63.1,446.5 L63.3,446.5 L63.5,446.4 L63.7,446.3 L63.9,446.2 L64.1,446.1 L64.3,446.0 L64.5,445.9 L64.7,445.8 L64.9,445.7 L65.1,445.6 L65.3,445.5 L65.5,445.4 L65.7,445.3 L65.9,445.2 L66.1,445.0 L66.3,444.9 L66.5,444.8 L66.7,444.7 L66.9,444.6 L67.1,444.5 L67.3,444.4 L67.5,444.3 L67.7,444.2 L67.9,444.1 L68.1,444.0 L68.3,443.9 L68.5,443.8 L68.7,443.7 L68.9,443.6 L69.1,443.5 L69.3,443.4 L69.5,443.3 L69.7,443.2 L69.9,443.1 L70.1,443.0 L70.3,442.9 L70.5,442.8 L70.7,442.7 L70.9,442.7 L71.1,442.6 L71.3,442.5 L71.5,442.5 L71.7,442.4 L71.9,442.3 L72.1,442.3 L72.3,442.2 L72.5,442.2 L72.7,442.2 L72.9,442.1 L73.1,442.1 L73.3,442.1 L73.5,442.0 L73.7,442.0 L73.9,442.0 L74.1,442.0 L74.3,442.0 L74.5,442.0 L74.7,442.0 L74.9,442.0 L75.1,442.0 L75.3,442.0 L75.5,442.0 L75.7,442.0 L75.9,442.1 L76.1,442.1 L76.3,442.1 L76.5,442.1 L76.7,442.1 L76.9,442.1 L77.1,442.2 L77.3,442.2 L77.5,442.2 L77.7,442.2 L77.9,442.3 L78.1,442.3 L78.3,442.3 L78.5,442.3 L78.7,442.4 L78.9,442.4 L79.1,442.4 L79.3,442.5 L79.5,442.5 L79.7,442.5 L79.9,442.6 L80.1,442.6 L80.3,442.6 L80.5,442.7 L80.7,442.7 L80.9,442.8 L81.1,442.8 L81.3,442.9 L81.5,442.9 L81.7,442.9 L81.9,443.0 L82.1,443.0 L82.3,443.1 L82.5,443.1 L82.7,443.2 L82.9,443.2 L83.1,443.3 L83.3,443.3 L83.5,443.4 L83.7,443.4 L83.9,443.5 L84.1,443.5 L84.3,443.6 L84.5,443.6 L84.7,443.7 L84.9,443.7 L85.1,443.8 L85.3,443.8 L85.5,443.9 L85.7,444.0 L85.9,444.0 L86.1,444.1 L86.3,444.1 L86.5,444.2 L86.7,444.2 L86.9,444.3 L87.1,444.3 L87.3,444.4 L87.5,444.5 L87.7,444.5 L87.9,444.6 L88.1,444.6 L88.3,444.7 L88.5,444.7 L88.7,444.8 L88.9,444.9 L89.1,444.9 L89.3,445.0 L89.5,445.0 L89.7,445.1 L89.9,445.2 L90.1,445.2 L90.3,445.3 L90.5,445.4 L90.7,445.5 L90.9,445.6 L91.1,445.7 L91.3,445.8 L91.5,446.0 L91.7,446.1 L91.9,446.2 L92.1,446.3 L92.3,446.4 L92.5,446.5 L92.7,446.6 L92.9,446.7 L93.1,446.8 L93.3,446.9 L93.5,447.0 L93.7,447.1 L93.9,447.2 L94.1,447.3 L94.3,447.3 L94.5,447.4 L94.7,447.4 L94.9,447.5 L95.1,447.5 L95.3,447.5 L95.5,447.5 L95.7,447.5 L95.9,447.4 L96.1,447.3 L96.3,447.1 L96.5,447.0 L96.7,446.8 L96.9,446.5 L97.1,446.3 L97.3,446.0 L97.5,445.8 L97.7,445.5 L97.9,445.2 L98.1,444.9 L98.3,444.6 L98.5,444.4 L98.7,444.1 L98.9,443.8 L99.1,443.5 L99.3,443.3 L99.5,443.1 L99.7,442.9 L99.9,442.7 L100.1,442.5 L100.3,442.4 L100.5,442.2 L100.7,442.1 L100.9,442.0 L101.1,441.8 L101.3,441.7 L101.5,441.6 L101.7,441.5 L101.9,441.4 L102.1,441.2 L102.3,441.1 L102.5,441.0 L102.7,440.9 L102.9,440.8 L103.1,440.7 L103.3,440.6 L103.5,440.4 L103.7,440.3 L103.9,440.2 L104.1,440.1 L104.3,439.9 L104.5,439.8 L104.7,439.7 L104.9,439.5 L105.1,439.4 L105.3,439.2 L105.5,439.0 L105.7,438.9 L105.9,438.7 L106.1,438.6 L106.3,438.4 L106.5,438.2 L106.7,438.0 L106.9,437.9 L107.1,437.7 L107.3,437.5 L107.5,437.3 L107.7,437.2 L107.9,437.0 L108.1,436.8 L108.3,436.6 L108.5,436.5 L108.7,436.3 L108.9,436.1 L109.1,435.9 L109.3,435.7 L109.5,435.6 L109.7,435.4 L109.9,435.2 L110.1,435.1 L110.3,434.9 L110.5,434.7 L110.7,434.6 L110.9,434.4 L111.1,434.2 L111.3,434.1 L111.5,433.9 L111.7,433.7 L111.9,433.6 L112.1,433.4 L112.3,433.2 L112.5,433.1 L112.7,432.9 L112.9,432.7 L113.1,432.6 L113.3,432.4 L113.5,432.2 L113.7,432.0 L113.9,431.9 L114.1,431.7 L114.3,431.5 L114.5,431.4 L114.7,431.2 L114.9,431.1 L115.1,430.9 L115.3,430.7 L115.5,430.6 L115.7,430.4 L115.9,430.3 L116.1,430.2 L116.3,430.0 L116.5,429.9 L116.7,429.8 L116.9,429.6 L117.1,429.5 L117.3,429.4 L117.5,429.3 L117.7,429.2 L117.9,429.1 L118.1,429.0 L118.3,428.9 L118.5,428.8 L118.7,428.7 L118.9,428.7 L119.1,428.6 L119.3,428.5 L119.5,428.4 L119.7,428.3 L119.9,428.3 L120.1,428.2 L120.3,428.1 L120.5,428.0 L120.7,428.0 L120.9,427.9 L121.1,427.8 L121.3,427.8 L121.5,427.7 L121.7,427.6 L121.9,427.6 L122.1,427.5 L122.3,427.4 L122.5,427.4 L122.7,427.3 L122.9,427.3 L123.1,427.2 L123.3,427.2 L123.5,427.1 L123.7,427.0 L123.9,427.0 L124.1,426.9 L124.3,426.9 L124.5,426.8 L124.7,426.8 L124.9,426.7 L125.1,426.7 L125.3,426.7 L125.5,426.6 L125.7,426.6 L125.9,426.5 L126.1,426.5 L126.3,426.5 L126.5,426.4 L126.7,426.4 L126.9,426.3 L127.1,426.3 L127.3,426.3 L127.5,426.3 L127.7,426.2 L127.9,426.2 L128.1,426.2 L128.3,426.1 L128.5,426.1 L128.7,426.1 L128.9,426.1 L129.1,426.0 L129.3,426.0 L129.5,426.0 L129.7,426.0 L129.9,426.0 L130.1,425.9 L130.3,425.9 L130.5,425.9 L130.7,425.9 L130.9,425.9 L131.1,425.9 L131.3,425.8 L131.5,425.8 L131.7,425.8 L131.9,425.8 L132.1,425.8 L132.3,425.8 L132.5,425.7 L132.7,425.7 L132.9,425.7 L133.1,425.7 L133.3,425.7 L133.5,425.6 L133.7,425.6 L133.9,425.6 L134.1,425.6 L134.3,425.6 L134.5,425.5 L134.7,425.5 L134.9,425.5 L135.1,425.5 L135.3,425.4 L135.5,425.4 L135.7,425.4 L135.9,425.4 L136.1,425.3 L136.3,425.3 L136.5,425.3 L136.7,425.2 L136.9,425.2 L137.1,425.2 L137.3,425.1 L137.5,425.1 L137.7,425.1 L137.9,425.0 L138.1,425.0 L138.3,425.0 L138.5,424.9 L138.7,424.9 L138.9,424.8 L139.1,424.8 L139.3,424.8 L139.5,424.7 L139.7,424.7 L139.9,424.6 L140.1,424.6 L140.3,424.5 L140.5,424.5 L140.7,424.4 L140.9,424.4 L141.1,424.3 L141.3,424.2 L141.5,424.2 L141.7,424.1 L141.9,424.1 L142.1,424.0 L142.3,423.9 L142.5,423.9 L142.7,423.8 L142.9,423.7 L143.1,423.6 L143.3,423.5 L143.5,423.5 L143.7,423.4 L143.9,423.3 L144.1,423.2 L144.3,423.1 L144.5,423.0 L144.7,422.9 L144.9,422.8 L145.1,422.7 L145.3,422.6 L145.5,422.5 L145.7,422.2 L145.9,422.0 L146.1,421.7 L146.3,421.3 L146.5,421.0 L146.7,420.6 L146.9,420.2 L147.1,419.7 L147.3,419.3 L147.5,418.9 L147.7,418.6 L147.9,418.2 L148.1,417.9 L148.3,417.6 L148.5,417.4 L148.7,417.3 L148.9,417.2 L149.1,417.2 L149.3,417.3 L149.5,417.6 L149.7,417.9 L149.9,418.3 L150.1,418.8 L150.3,415.2 L150.5,409.9 L150.7,405.0 L150.9,400.4 L151.1,396.3 L151.3,392.7 L151.5,389.8 L151.7,388.0 L151.9,389.8 L152.1,392.7 L152.3,396.3 L152.5,400.4 L152.7,405.0 L152.9,409.9 L153.1,415.2 L153.3,420.8 L153.5,426.7 L153.7,432.9 L153.9,435.1 L154.1,435.8 L154.3,436.4 L154.5,437.0 L154.7,437.5 L154.9,438.1 L155.1,438.6 L155.3,439.2 L155.5,439.7 L155.7,440.1 L155.9,440.5 L156.1,440.8 L156.3,441.0 L156.5,441.1 L156.7,441.3 L156.9,441.4 L157.1,441.5 L157.3,441.6 L157.5,441.7 L157.7,441.8 L157.9,441.9 L158.1,442.0 L158.3,442.1 L158.5,442.1 L158.7,442.2 L158.9,442.3 L159.1,442.3 L159.3,442.4 L159.5,442.5 L159.7,442.5 L159.9,442.6 L160.1,442.6 L160.3,442.7 L160.5,442.7 L160.7,442.7 L160.9,442.8 L161.1,442.8 L161.3,442.9 L161.5,442.9 L161.7,443.0 L161.9,443.0 L162.1,443.1 L162.3,443.1 L162.5,443.2 L162.7,443.2 L162.9,443.3 L163.1,443.3 L163.3,443.4 L163.5,443.4 L163.7,443.4 L163.9,443.5 L164.1,443.5 L164.3,443.6 L164.5,443.6 L164.7,443.7 L164.9,443.7 L165.1,443.7 L165.3,443.8 L165.5,443.8 L165.7,443.8 L165.9,443.9 L166.1,443.9 L166.3,443.9 L166.5,443.9 L166.7,444.0 L166.9,444.0 L167.1,444.0 L167.3,444.0 L167.5,444.0 L167.7,444.0 L167.9,444.0 L168.1,444.1 L168.3,444.1 L168.5,444.1 L168.7,444.1 L168.9,444.1 L169.1,444.1 L169.3,444.1 L169.5,444.1 L169.7,444.1 L169.9,444.2 L170.1,444.2 L170.3,444.2 L170.5,444.2 L170.7,444.2 L170.9,444.2 L171.1,444.2 L171.3,444.2 L171.5,444.2 L171.7,444.2 L171.9,444.2 L172.1,444.2 L172.3,444.2 L172.5,444.2 L172.7,444.2 L172.9,444.3 L173.1,444.3 L173.3,444.3 L173.5,444.3 L173.7,444.3 L173.9,444.3 L174.1,444.3 L174.3,444.3 L174.5,444.3 L174.7,444.3 L174.9,444.3 L175.1,444.3 L175.3,444.3 L175.5,444.4 L175.7,444.4 L175.9,444.4 L176.1,444.4 L176.3,444.4 L176.5,444.4 L176.7,444.4 L176.9,444.4 L177.1,444.4 L177.3,444.5 L177.5,444.5 L177.7,444.5 L177.9,444.5 L178.1,444.5 L178.3,444.5 L178.5,444.5 L178.7,444.6 L178.9,444.6 L179.1,444.6 L179.3,444.6 L179.5,444.6 L179.7,444.6 L179.9,444.7 L180.1,444.7 L180.3,444.7 L180.5,444.7 L180.7,444.7 L180.9,444.7 L181.1,444.8 L181.3,444.8 L181.5,444.8 L181.7,444.8 L181.9,444.8 L182.1,444.9 L182.3,444.9 L182.5,444.9 L182.7,444.9 L182.9,444.9 L183.1,445.0 L183.3,445.0 L183.5,445.0 L183.7,445.0 L183.9,445.0 L184.1,445.1 L184.3,445.1 L184.5,445.1 L184.7,445.1 L184.9,445.1 L185.1,445.2 L185.3,445.2 L185.5,445.2 L185.7,445.2 L185.9,445.3 L186.1,445.3 L186.3,445.3 L186.5,445.3 L186.7,445.4 L186.9,445.4 L187.1,445.4 L187.3,445.4 L187.5,445.4 L187.7,445.5 L187.9,445.5 L188.1,445.5 L188.3,445.5 L188.5,445.6 L188.7,445.6 L188.9,445.6 L189.1,445.6 L189.3,445.7 L189.5,445.7 L189.7,445.7 L189.9,445.7 L190.1,445.8 L190.3,445.8 L190.5,445.8 L190.7,445.8 L190.9,445.9 L191.1,445.9 L191.3,445.9 L191.5,446.0 L191.7,446.0 L191.9,446.0 L192.1,446.0 L192.3,446.1 L192.5,446.1 L192.7,446.1 L192.9,446.1 L193.1,446.2 L193.3,446.2 L193.5,446.2 L193.7,446.2 L193.9,446.3 L194.1,446.3 L194.3,446.3 L194.5,446.4 L194.7,446.4 L194.9,446.4 L195.1,446.4 L195.3,446.5 L195.5,446.5 L195.7,446.5 L195.9,446.5 L196.1,446.6 L196.3,446.6 L196.5,446.6 L196.7,446.6 L196.9,446.7 L197.1,446.7 L197.3,446.7 L197.5,446.8 L197.7,446.8 L197.9,446.8 L198.1,446.8 L198.3,446.9 L198.5,446.9 L198.7,446.9 L198.9,446.9 L199.1,447.0 L199.3,447.0 L199.5,447.0 L199.7,447.1 L199.9,447.1 L200.1,447.1 L200.3,447.1 L200.5,447.2 L200.7,447.2 L200.9,447.2 L201.1,447.2 L201.3,447.3 L201.5,447.3 L201.7,447.3 L201.9,447.3 L202.1,447.4 L202.3,447.4 L202.5,447.4 L202.7,447.5 L202.9,447.5 L203.1,447.5 L203.3,447.5 L203.5,447.6 L203.7,447.6 L203.9,447.6 L204.1,447.6 L204.3,447.7 L204.5,447.7 L204.7,447.7 L204.9,447.7 L205.1,447.8 L205.3,447.8 L205.5,447.8 L205.7,447.8 L205.9,447.9 L206.1,447.9 L206.3,447.9 L206.5,447.9 L206.7,448.0 L206.9,448.0 L207.1,448.0" fill="none" stroke="#ff9c9c" stroke-width="0.9"/>
<path d="M45.5,441.0V444.3 M46.3,446.0V450.2 M47.1,444.5V448.9 M48.7,442.3V448.8 M49.5,448.3V450.9 M50.3,444.5V447.4 M51.1,446.1V449.3 M52.7,447.8V453.5 M55.1,446.5V450.8 M59.1,448.4V457.7 M59.9,443.5V448.3 M60.7,446.7V452.0 M62.3,448.7V453.3 M63.1,443.7V447.9 M64.7,445.6V449.1 M66.3,442.7V445.8 M67.1,442.7V445.9 M67.9,443.6V447.8 M69.5,440.7V446.1 M71.1,442.4V447.0 M71.9,440.1V447.3 M72.7,441.9V445.1 M78.3,441.5V444.0 M79.1,442.8V446.0 M79.9,438.8V444.3 M80.7,443.3V450.2 M82.3,441.3V444.2 M83.1,444.9V448.0 M83.9,443.6V449.4 M85.5,439.3V442.5 M86.3,443.5V451.9 M87.1,443.8V450.6 M87.9,445.6V451.4 M89.5,443.7V447.0 M90.3,443.9V448.9 M91.1,446.5V449.0 M93.5,447.1V452.3 M94.3,446.3V450.8 M95.1,449.0V453.1 M95.9,447.0V454.0 M96.7,447.6V449.8 M97.5,446.2V452.2 M98.3,442.1V445.3 M99.1,442.4V445.6 M158.3,435.1V438.3 M163.1,438.5V441.7 M164.7,439.6V442.8 M169.5,442.6V448.4 M171.1,439.7V445.9 M171.9,442.0V446.7 M172.7,445.4V448.5 M173.5,439.2V444.1 M174.3,446.6V450.3 M176.7,442.7V450.1 M182.3,443.2V450.7 M183.1,441.1V448.0 M183.9,443.1V451.9 M184.7,445.2V447.8 M185.5,446.4V448.9 M186.3,445.9V450.2 M187.9,442.0V448.6 M189.5,447.8V451.1 M191.1,444.1V447.5 M192.7,449.5V453.5 M193.5,445.7V448.2 M194.3,445.3V449.1 M195.1,443.3V449.9 M195.9,444.5V447.4 M196.7,443.9V446.4 M197.5,446.2V450.6 M198.3,446.0V449.2 M199.1,445.1V447.6 M199.9,445.1V449.2 M200.7,446.4V449.5 M201.5,445.4V453.7 M202.3,444.7V448.3 M203.1,443.7V446.6 M203.9,447.4V451.8 M204.7,448.4V458.6 M205.5,447.5V451.5 M206.3,446.5V449.6 M207.1,448.7V452.2" stroke="#5a5ad6" stroke-width="0.65" fill="none" stroke-opacity="0.85"/>
<path d="M106.3,438.0 L107.1,437.7 L107.9,436.0 L108.7,437.1 L109.5,433.6 L110.3,435.3 L111.1,434.1 L111.9,433.2 L112.7,433.0 L113.5,431.7 L114.3,431.7 L115.1,431.1 L115.9,430.1 L116.7,429.6 L117.5,429.6 L118.3,428.7 L119.1,428.6 L119.9,428.4 L120.7,428.4 L121.5,427.6 L122.3,427.5 L123.1,427.5 L123.9,426.2 L124.7,426.7 L125.5,426.0 L126.3,425.9 L127.1,426.9 L127.9,426.3 L128.7,426.5 L129.5,425.9 L130.3,426.1 L131.1,425.7 L131.9,425.6 L132.7,425.7 L133.5,425.7 L134.3,426.0 L135.1,425.4 L135.9,425.5 L136.7,425.2 L137.5,425.1 L138.3,424.6 L139.1,425.1 L139.9,424.5 L140.7,424.4 L141.5,424.1 L142.3,424.2 L143.1,423.8 L143.9,423.3 L144.7,423.0 L145.5,422.6 L146.3,421.6 L147.1,419.9 L147.9,418.6 L148.7,417.8 L149.5,417.5 L150.3,417.3 L151.1,400.8 L151.9,394.4 L152.7,408.9 L153.5,422.6 L154.3,423.9 L155.1,427.8 L155.9,431.8 L156.7,434.7 L157.5,433.1 L158.3,436.3 L159.1,437.6 L159.9,437.3 L160.7,437.5 L161.5,439.0" fill="none" stroke="#4436b8" stroke-width="0.8" stroke-opacity="0.78"/>
<path d="M147.7,418.6 L147.8,418.4 L147.9,418.2 L148.0,418.1 L148.1,417.9 L148.2,417.8 L148.3,417.6 L148.4,417.5 L148.5,417.4 L148.6,417.4 L148.7,417.3 L148.8,417.2 L148.9,417.2 L149.0,417.2 L149.1,417.2 L149.2,417.2 L149.3,417.2 L149.4,417.3 L149.5,417.3 L149.6,417.3 L149.7,417.4 L149.8,417.4 L149.9,417.5 L150.0,417.5 L150.1,417.6 L150.2,417.7 L150.3,417.7 L150.4,416.5 L150.5,413.9 L150.6,411.4 L150.7,409.0 L150.8,406.7 L150.9,404.4 L151.0,402.3 L151.1,400.3 L151.2,398.4 L151.3,396.7 L151.4,395.2 L151.5,393.8 L151.6,392.7 L151.7,392.0 L151.8,392.7 L151.9,393.8 L152.0,395.2 L152.1,396.7 L152.2,398.4 L152.3,400.3 L152.4,402.3 L152.5,404.4 L152.6,406.7 L152.7,409.0 L152.8,411.4 L152.9,413.9 L153.0,416.5 L153.1,419.2 L153.2,422.0 L153.3,422.3 L153.4,422.5 L153.5,422.7 L153.6,422.9 L153.7,423.2 L153.8,423.4 L153.9,423.6 L154.0,423.8 L154.1,424.1 L154.2,424.3 L154.3,424.5 L154.4,424.8 L154.5,425.0 L154.6,425.3 L154.7,425.6 L154.8,426.1 L154.9,426.5 L155.0,427.0 L155.1,427.6 L155.2,428.2 L155.3,428.8 L155.4,429.4 L155.5,430.0 L155.6,430.6" fill="none" stroke="#4646c8" stroke-width="0.6" stroke-dasharray="1.2,0.9" stroke-opacity="0.85"/>
<path d="M44.9,442.9h1.3 M45.6,446.8h1.3 M46.4,445.7h1.3 M47.2,446.5h1.3 M48.0,444.4h1.3 M48.8,448.9h1.3 M49.6,446.2h1.3 M50.4,447.3h1.3 M51.2,446.1h1.3 M52.0,450.2h1.3 M52.8,446.4h1.3 M53.6,449.7h1.3 M54.4,447.4h1.3 M55.2,446.7h1.3 M56.0,445.9h1.3 M56.8,449.7h1.3 M57.6,449.1h1.3 M58.4,449.7h1.3 M59.2,446.5h1.3 M60.0,448.2h1.3 M60.8,448.7h1.3 M61.6,450.2h1.3 M62.4,444.5h1.3 M63.2,448.1h1.3 M64.0,447.8h1.3 M64.8,447.6h1.3 M65.6,444.1h1.3 M66.4,443.9h1.3 M67.2,445.7h1.3 M68.0,443.2h1.3 M68.8,442.8h1.3 M69.6,443.8h1.3 M70.4,443.0h1.3 M71.2,442.3h1.3 M72.0,443.1h1.3 M72.8,443.5h1.3 M73.6,442.8h1.3 M74.4,443.5h1.3 M75.2,444.0h1.3 M76.0,444.1h1.3 M76.8,442.7h1.3 M77.6,442.4h1.3 M78.4,444.0h1.3 M79.2,442.1h1.3 M80.0,444.6h1.3 M80.8,444.8h1.3 M81.6,442.9h1.3 M82.4,445.7h1.3 M83.2,444.2h1.3 M84.0,444.1h1.3 M84.8,440.5h1.3 M85.6,445.2h1.3 M86.4,445.1h1.3 M87.2,447.8h1.3 M88.0,441.2h1.3 M88.8,445.0h1.3 M89.6,445.4h1.3 M90.4,447.5h1.3 M91.2,446.8h1.3 M92.0,445.5h1.3 M92.8,449.1h1.3 M93.6,448.0h1.3 M94.4,451.3h1.3 M95.2,449.5h1.3 M96.0,448.2h1.3 M96.8,447.3h1.3 M97.6,442.6h1.3 M98.4,443.6h1.3 M99.2,442.5h1.3 M100.0,442.0h1.3 M100.8,442.7h1.3 M101.6,441.6h1.3 M102.4,440.0h1.3 M103.2,439.9h1.3 M104.0,440.7h1.3 M104.8,438.5h1.3 M105.6,438.0h1.3 M106.4,437.7h1.3 M107.2,436.0h1.3 M108.0,437.1h1.3 M108.8,433.6h1.3 M109.6,435.3h1.3 M110.4,434.1h1.3 M111.2,433.2h1.3 M112.0,433.0h1.3 M112.8,431.7h1.3 M113.6,431.7h1.3 M114.4,431.1h1.3 M115.2,430.1h1.3 M116.0,429.6h1.3 M116.8,429.6h1.3 M117.6,428.7h1.3 M118.4,428.6h1.3 M119.2,428.4h1.3 M120.0,428.4h1.3 M120.8,427.6h1.3 M121.6,427.5h1.3 M122.4,427.5h1.3 M123.2,426.2h1.3 M124.0,426.7h1.3 M124.8,426.0h1.3 M125.6,425.9h1.3 M126.4,426.9h1.3 M127.2,426.3h1.3 M128.0,426.5h1.3 M128.8,425.9h1.3 M129.6,426.1h1.3 M130.4,425.7h1.3 M131.2,425.6h1.3 M132.0,425.7h1.3 M132.8,425.7h1.3 M133.6,426.0h1.3 M134.4,425.4h1.3 M135.2,425.5h1.3 M136.0,425.2h1.3 M136.8,425.1h1.3 M137.6,424.6h1.3 M138.4,425.1h1.3 M139.2,424.5h1.3 M140.0,424.4h1.3 M140.8,424.1h1.3 M141.6,424.2h1.3 M142.4,423.8h1.3 M143.2,423.3h1.3 M144.0,423.0h1.3 M144.8,422.6h1.3 M145.6,421.6h1.3 M146.4,419.9h1.3 M147.2,418.6h1.3 M148.0,417.8h1.3 M148.8,417.5h1.3 M149.6,417.3h1.3 M150.4,400.8h1.3 M151.2,394.4h1.3 M152.0,408.9h1.3 M152.8,422.6h1.3 M153.6,423.9h1.3 M154.4,427.8h1.3 M155.2,431.8h1.3 M156.0,434.7h1.3 M156.8,433.1h1.3 M157.6,436.3h1.3 M158.4,437.6h1.3 M159.2,437.3h1.3 M160.0,437.5h1.3 M160.8,439.0h1.3 M161.6,438.9h1.3 M162.4,439.7h1.3 M163.2,440.6h1.3 M164.0,440.8h1.3 M164.8,441.6h1.3 M165.6,442.9h1.3 M166.4,442.2h1.3 M167.2,443.0h1.3 M168.0,441.8h1.3 M168.8,444.7h1.3 M169.6,438.6h1.3 M170.4,442.1h1.3 M171.2,444.1h1.3 M172.0,446.0h1.3 M172.8,441.5h1.3 M173.6,447.7h1.3 M174.4,442.7h1.3 M175.2,446.3h1.3 M176.0,443.7h1.3 M176.8,443.9h1.3 M177.6,445.0h1.3 M178.4,447.0h1.3 M179.2,443.1h1.3 M180.0,446.7h1.3 M180.8,444.7h1.3 M181.6,444.9h1.3 M182.4,443.5h1.3 M183.2,444.9h1.3 M184.0,446.4h1.3 M184.8,447.2h1.3 M185.6,447.1h1.3 M186.4,445.7h1.3 M187.2,444.0h1.3 M188.0,446.6h1.3 M188.8,449.2h1.3 M189.6,445.4h1.3 M190.4,445.6h1.3 M191.2,446.8h1.3 M192.0,451.0h1.3 M192.8,446.4h1.3 M193.6,446.7h1.3 M194.4,446.7h1.3 M195.2,445.8h1.3 M196.0,445.4h1.3 M196.8,446.9h1.3 M197.6,447.2h1.3 M198.4,446.0h1.3 M199.2,447.4h1.3 M200.0,448.2h1.3 M200.8,447.4h1.3 M201.6,446.6h1.3 M202.4,445.4h1.3 M203.2,449.2h1.3 M204.0,449.9h1.3 M204.8,450.4h1.3 M205.6,448.2h1.3 M206.4,449.7h1.3" stroke="#3a30ae" stroke-width="1.2" fill="none" stroke-opacity="0.82"/>
<path d="M45.5,470.0 L45.7,470.0 L45.9,470.0 L46.1,470.0 L46.3,470.1 L46.5,470.1 L46.7,470.1 L46.9,470.1 L47.1,470.1 L47.3,470.1 L47.5,470.2 L47.7,470.2 L47.9,470.2 L48.1,470.2 L48.3,470.2 L48.5,470.3 L48.7,470.3 L48.9,470.3 L49.1,470.3 L49.3,470.3 L49.5,470.4 L49.7,470.4 L49.9,470.4 L50.1,470.4 L50.3,470.4 L50.5,470.5 L50.7,470.5 L50.9,470.5 L51.1,470.5 L51.3,470.5 L51.5,470.5 L51.7,470.6 L51.9,470.6 L52.1,470.6 L52.3,470.6 L52.5,470.6 L52.7,470.7 L52.9,470.7 L53.1,470.7 L53.3,470.7 L53.5,470.7 L53.7,470.7 L53.9,470.8 L54.1,470.8 L54.3,470.8 L54.5,470.8 L54.7,470.8 L54.9,470.8 L55.1,470.9 L55.3,470.9 L55.5,470.9 L55.7,470.9 L55.9,470.9 L56.1,470.9 L56.3,470.9 L56.5,470.9 L56.7,470.9 L56.9,471.0 L57.1,471.0 L57.3,471.0 L57.5,471.0 L57.7,471.0 L57.9,471.0 L58.1,471.0 L58.3,471.0 L58.5,471.0 L58.7,471.0 L58.9,471.0 L59.1,471.0 L59.3,471.0 L59.5,471.0 L59.7,471.0 L59.9,471.0 L60.1,471.0 L60.3,471.0 L60.5,471.0 L60.7,471.0 L60.9,471.0 L61.1,471.0 L61.3,471.0 L61.5,471.0 L61.7,471.0 L61.9,471.0 L62.1,471.0 L62.3,471.0 L62.5,471.0 L62.7,471.0 L62.9,471.0 L63.1,471.0 L63.3,471.0 L63.5,471.0 L63.7,470.9 L63.9,470.9 L64.1,470.9 L64.3,470.9 L64.5,470.9 L64.7,470.9 L64.9,470.9 L65.1,470.9 L65.3,470.9 L65.5,470.9 L65.7,470.9 L65.9,470.9 L66.1,470.9 L66.3,470.9 L66.5,470.9 L66.7,470.9 L66.9,470.9 L67.1,470.8 L67.3,470.8 L67.5,470.8 L67.7,470.8 L67.9,470.8 L68.1,470.8 L68.3,470.8 L68.5,470.8 L68.7,470.8 L68.9,470.8 L69.1,470.8 L69.3,470.8 L69.5,470.7 L69.7,470.7 L69.9,470.7 L70.1,470.7 L70.3,470.7 L70.5,470.7 L70.7,470.7 L70.9,470.7 L71.1,470.7 L71.3,470.7 L71.5,470.7 L71.7,470.6 L71.9,470.6 L72.1,470.6 L72.3,470.6 L72.5,470.6 L72.7,470.6 L72.9,470.6 L73.1,470.6 L73.3,470.6 L73.5,470.5 L73.7,470.5 L73.9,470.5 L74.1,470.5 L74.3,470.5 L74.5,470.5 L74.7,470.5 L74.9,470.4 L75.1,470.4 L75.3,470.4 L75.5,470.4 L75.7,470.3 L75.9,470.3 L76.1,470.3 L76.3,470.3 L76.5,470.2 L76.7,470.2 L76.9,470.1 L77.1,470.1 L77.3,470.1 L77.5,470.0 L77.7,470.0 L77.9,469.9 L78.1,469.9 L78.3,469.8 L78.5,469.8 L78.7,469.7 L78.9,469.7 L79.1,469.6 L79.3,469.5 L79.5,469.5 L79.7,469.4 L79.9,469.4 L80.1,469.3 L80.3,469.2 L80.5,469.2 L80.7,469.1 L80.9,469.0 L81.1,469.0 L81.3,468.9 L81.5,468.8 L81.7,468.8 L81.9,468.7 L82.1,468.6 L82.3,468.6 L82.5,468.5 L82.7,468.4 L82.9,468.3 L83.1,468.3 L83.3,468.2 L83.5,468.1 L83.7,468.0 L83.9,468.0 L84.1,467.9 L84.3,467.8 L84.5,467.7 L84.7,467.7 L84.9,467.6 L85.1,467.5 L85.3,467.4 L85.5,467.4 L85.7,467.3 L85.9,467.2 L86.1,467.1 L86.3,467.1 L86.5,467.0 L86.7,466.9 L86.9,466.9 L87.1,466.8 L87.3,466.7 L87.5,466.6 L87.7,466.6 L87.9,466.5 L88.1,466.4 L88.3,466.4 L88.5,466.3 L88.7,466.2 L88.9,466.2 L89.1,466.1 L89.3,466.0 L89.5,466.0 L89.7,465.9 L89.9,465.8 L90.1,465.8 L90.3,465.7 L90.5,465.6 L90.7,465.6 L90.9,465.5 L91.1,465.4 L91.3,465.4 L91.5,465.3 L91.7,465.2 L91.9,465.2 L92.1,465.1 L92.3,465.0 L92.5,464.9 L92.7,464.9 L92.9,464.8 L93.1,464.7 L93.3,464.7 L93.5,464.6 L93.7,464.5 L93.9,464.4 L94.1,464.4 L94.3,464.3 L94.5,464.2 L94.7,464.2 L94.9,464.1 L95.1,464.0 L95.3,463.9 L95.5,463.9 L95.7,463.8 L95.9,463.7 L96.1,463.7 L96.3,463.6 L96.5,463.5 L96.7,463.5 L96.9,463.4 L97.1,463.3 L97.3,463.3 L97.5,463.2 L97.7,463.1 L97.9,463.1 L98.1,463.0 L98.3,463.0 L98.5,462.9 L98.7,462.8 L98.9,462.8 L99.1,462.7 L99.3,462.7 L99.5,462.6 L99.7,462.6 L99.9,462.5 L100.1,462.5 L100.3,462.4 L100.5,462.4 L100.7,462.3 L100.9,462.3 L101.1,462.2 L101.3,462.2 L101.5,462.2 L101.7,462.1 L101.9,462.1 L102.1,462.0 L102.3,462.0 L102.5,461.9 L102.7,461.9 L102.9,461.9 L103.1,461.8 L103.3,461.8 L103.5,461.7 L103.7,461.7 L103.9,461.7 L104.1,461.6 L104.3,461.6 L104.5,461.6 L104.7,461.5 L104.9,461.5 L105.1,461.4 L105.3,461.4 L105.5,461.4 L105.7,461.3 L105.9,461.3 L106.1,461.3 L106.3,461.2 L106.5,461.2 L106.7,461.2 L106.9,461.1 L107.1,461.1 L107.3,461.0 L107.5,461.0 L107.7,461.0 L107.9,460.9 L108.1,460.9 L108.3,460.9 L108.5,460.8 L108.7,460.8 L108.9,460.7 L109.1,460.7 L109.3,460.7 L109.5,460.6 L109.7,460.6 L109.9,460.5 L110.1,460.5 L110.3,460.5 L110.5,460.4 L110.7,460.4 L110.9,460.3 L111.1,460.3 L111.3,460.2 L111.5,460.2 L111.7,460.1 L111.9,460.1 L112.1,460.1 L112.3,460.0 L112.5,460.0 L112.7,459.9 L112.9,459.9 L113.1,459.8 L113.3,459.8 L113.5,459.7 L113.7,459.7 L113.9,459.7 L114.1,459.6 L114.3,459.6 L114.5,459.5 L114.7,459.5 L114.9,459.5 L115.1,459.4 L115.3,459.4 L115.5,459.3 L115.7,459.3 L115.9,459.3 L116.1,459.2 L116.3,459.2 L116.5,459.1 L116.7,459.1 L116.9,459.1 L117.1,459.0 L117.3,459.0 L117.5,459.0 L117.7,459.0 L117.9,458.9 L118.1,458.9 L118.3,458.9 L118.5,458.8 L118.7,458.8 L118.9,458.8 L119.1,458.8 L119.3,458.8 L119.5,458.7 L119.7,458.7 L119.9,458.7 L120.1,458.7 L120.3,458.7 L120.5,458.6 L120.7,458.6 L120.9,458.6 L121.1,458.6 L121.3,458.6 L121.5,458.5 L121.7,458.5 L121.9,458.5 L122.1,458.5 L122.3,458.5 L122.5,458.5 L122.7,458.4 L122.9,458.4 L123.1,458.4 L123.3,458.4 L123.5,458.4 L123.7,458.4 L123.9,458.3 L124.1,458.3 L124.3,458.3 L124.5,458.3 L124.7,458.3 L124.9,458.3 L125.1,458.2 L125.3,458.2 L125.5,458.2 L125.7,458.2 L125.9,458.2 L126.1,458.1 L126.3,458.1 L126.5,458.1 L126.7,458.1 L126.9,458.0 L127.1,458.0 L127.3,458.0 L127.5,458.0 L127.7,457.9 L127.9,457.9 L128.1,457.9 L128.3,457.8 L128.5,457.8 L128.7,457.8 L128.9,457.8 L129.1,457.7 L129.3,457.7 L129.5,457.7 L129.7,457.6 L129.9,457.6 L130.1,457.6 L130.3,457.5 L130.5,457.5 L130.7,457.5 L130.9,457.4 L131.1,457.4 L131.3,457.4 L131.5,457.3 L131.7,457.3 L131.9,457.3 L132.1,457.2 L132.3,457.2 L132.5,457.1 L132.7,457.1 L132.9,457.0 L133.1,457.0 L133.3,457.0 L133.5,456.9 L133.7,456.9 L133.9,456.8 L134.1,456.8 L134.3,456.7 L134.5,456.7 L134.7,456.6 L134.9,456.6 L135.1,456.5 L135.3,456.5 L135.5,456.4 L135.7,456.4 L135.9,456.3 L136.1,456.3 L136.3,456.2 L136.5,456.1 L136.7,456.1 L136.9,456.0 L137.1,456.0 L137.3,455.9 L137.5,455.8 L137.7,455.7 L137.9,455.7 L138.1,455.6 L138.3,455.5 L138.5,455.4 L138.7,455.3 L138.9,455.3 L139.1,455.2 L139.3,455.1 L139.5,455.0 L139.7,454.9 L139.9,454.8 L140.1,454.7 L140.3,454.6 L140.5,454.5 L140.7,454.4 L140.9,454.3 L141.1,454.1 L141.3,454.0 L141.5,453.9 L141.7,453.8 L141.9,453.6 L142.1,453.5 L142.3,453.4 L142.5,453.2 L142.7,453.1 L142.9,453.0 L143.1,452.8 L143.3,452.7 L143.5,452.5 L143.7,452.3 L143.9,452.2 L144.1,452.0 L144.3,451.8 L144.5,451.7 L144.7,451.5 L144.9,451.3 L145.1,451.1 L145.3,450.9 L145.5,450.6 L145.7,450.4 L145.9,450.1 L146.1,449.8 L146.3,449.5 L146.5,449.2 L146.7,448.9 L146.9,448.6 L147.1,448.2 L147.3,447.8 L147.5,447.4 L147.7,446.9 L147.9,446.4 L148.1,445.9 L148.3,444.9 L148.5,443.5 L148.7,441.9 L148.9,440.2 L149.1,438.5 L149.3,437.1 L149.5,436.0 L149.7,435.4 L149.9,435.3 L150.1,435.5 L150.3,435.2 L150.5,429.9 L150.7,425.0 L150.9,420.4 L151.1,416.3 L151.3,412.7 L151.5,409.8 L151.7,408.0 L151.9,409.8 L152.1,412.7 L152.3,416.3 L152.5,420.4 L152.7,425.0 L152.9,429.9 L153.1,435.2 L153.3,440.8 L153.5,446.7 L153.7,452.9 L153.9,458.3 L154.1,459.6 L154.3,460.9 L154.5,462.0 L154.7,463.1 L154.9,464.1 L155.1,465.0 L155.3,465.7 L155.5,466.3 L155.7,466.7 L155.9,466.9 L156.1,467.0 L156.3,467.1 L156.5,467.2 L156.7,467.2 L156.9,467.3 L157.1,467.3 L157.3,467.4 L157.5,467.4 L157.7,467.5 L157.9,467.5 L158.1,467.5 L158.3,467.6 L158.5,467.6 L158.7,467.7 L158.9,467.7 L159.1,467.7 L159.3,467.8 L159.5,467.8 L159.7,467.8 L159.9,467.8 L160.1,467.9 L160.3,467.9 L160.5,467.9 L160.7,467.9 L160.9,467.9 L161.1,467.9 L161.3,468.0 L161.5,468.0 L161.7,468.0 L161.9,468.0 L162.1,468.0 L162.3,468.0 L162.5,468.0 L162.7,468.1 L162.9,468.1 L163.1,468.1 L163.3,468.1 L163.5,468.1 L163.7,468.1 L163.9,468.1 L164.1,468.1 L164.3,468.1 L164.5,468.1 L164.7,468.1 L164.9,468.2 L165.1,468.2 L165.3,468.2 L165.5,468.2 L165.7,468.2 L165.9,468.2 L166.1,468.2 L166.3,468.2 L166.5,468.2 L166.7,468.2 L166.9,468.2 L167.1,468.2 L167.3,468.2 L167.5,468.2 L167.7,468.2 L167.9,468.2 L168.1,468.3 L168.3,468.3 L168.5,468.3 L168.7,468.3 L168.9,468.3 L169.1,468.3 L169.3,468.3 L169.5,468.3 L169.7,468.3 L169.9,468.3 L170.1,468.3 L170.3,468.3 L170.5,468.3 L170.7,468.3 L170.9,468.3 L171.1,468.3 L171.3,468.3 L171.5,468.3 L171.7,468.3 L171.9,468.3 L172.1,468.3 L172.3,468.4 L172.5,468.4 L172.7,468.4 L172.9,468.4 L173.1,468.4 L173.3,468.4 L173.5,468.4 L173.7,468.4 L173.9,468.4 L174.1,468.4 L174.3,468.4 L174.5,468.4 L174.7,468.4 L174.9,468.4 L175.1,468.4 L175.3,468.5 L175.5,468.5 L175.7,468.5 L175.9,468.5 L176.1,468.5 L176.3,468.5 L176.5,468.5 L176.7,468.5 L176.9,468.5 L177.1,468.5 L177.3,468.6 L177.5,468.6 L177.7,468.6 L177.9,468.6 L178.1,468.6 L178.3,468.6 L178.5,468.6 L178.7,468.6 L178.9,468.7 L179.1,468.7 L179.3,468.7 L179.5,468.7 L179.7,468.7 L179.9,468.7 L180.1,468.7 L180.3,468.8 L180.5,468.8 L180.7,468.8 L180.9,468.8 L181.1,468.8 L181.3,468.8 L181.5,468.9 L181.7,468.9 L181.9,468.9 L182.1,468.9 L182.3,468.9 L182.5,469.0 L182.7,469.0 L182.9,469.0 L183.1,469.0 L183.3,469.0 L183.5,469.0 L183.7,469.1 L183.9,469.1 L184.1,469.1 L184.3,469.1 L184.5,469.1 L184.7,469.2 L184.9,469.2 L185.1,469.2 L185.3,469.2 L185.5,469.3 L185.7,469.3 L185.9,469.3 L186.1,469.3 L186.3,469.3 L186.5,469.4 L186.7,469.4 L186.9,469.4 L187.1,469.4 L187.3,469.5 L187.5,469.5 L187.7,469.5 L187.9,469.5 L188.1,469.6 L188.3,469.6 L188.5,469.6 L188.7,469.6 L188.9,469.7 L189.1,469.7 L189.3,469.7 L189.5,469.7 L189.7,469.7 L189.9,469.8 L190.1,469.8 L190.3,469.8 L190.5,469.9 L190.7,469.9 L190.9,469.9 L191.1,469.9 L191.3,470.0 L191.5,470.0 L191.7,470.0 L191.9,470.0 L192.1,470.1 L192.3,470.1 L192.5,470.1 L192.7,470.1 L192.9,470.2 L193.1,470.2 L193.3,470.2 L193.5,470.2 L193.7,470.3 L193.9,470.3 L194.1,470.3 L194.3,470.3 L194.5,470.4 L194.7,470.4 L194.9,470.4 L195.1,470.5 L195.3,470.5 L195.5,470.5 L195.7,470.5 L195.9,470.6 L196.1,470.6 L196.3,470.6 L196.5,470.6 L196.7,470.7 L196.9,470.7 L197.1,470.7 L197.3,470.8 L197.5,470.8 L197.7,470.8 L197.9,470.8 L198.1,470.9 L198.3,470.9 L198.5,470.9 L198.7,470.9 L198.9,471.0 L199.1,471.0 L199.3,471.0 L199.5,471.0 L199.7,471.1 L199.9,471.1 L200.1,471.1 L200.3,471.2 L200.5,471.2 L200.7,471.2 L200.9,471.2 L201.1,471.3 L201.3,471.3 L201.5,471.3 L201.7,471.3 L201.9,471.4 L202.1,471.4 L202.3,471.4 L202.5,471.4 L202.7,471.5 L202.9,471.5 L203.1,471.5 L203.3,471.5 L203.5,471.6 L203.7,471.6 L203.9,471.6 L204.1,471.6 L204.3,471.7 L204.5,471.7 L204.7,471.7 L204.9,471.7 L205.1,471.8 L205.3,471.8 L205.5,471.8 L205.7,471.8 L205.9,471.9 L206.1,471.9 L206.3,471.9 L206.5,471.9 L206.7,472.0 L206.9,472.0 L207.1,472.0" fill="none" stroke="#ff9c9c" stroke-width="0.9"/>
<path d="M45.5,471.7V479.9 M46.3,466.8V470.6 M47.1,468.6V474.1 M47.9,470.1V473.3 M48.7,469.5V472.3 M49.5,469.3V474.9 M50.3,465.6V469.3 M51.9,467.3V470.9 M52.7,469.3V471.9 M53.5,471.3V475.1 M55.1,469.0V473.0 M55.9,470.1V473.1 M59.1,469.9V474.4 M59.9,469.6V472.7 M61.5,471.7V473.7 M62.3,470.3V473.7 M63.9,468.9V471.9 M64.7,470.4V477.2 M65.5,468.7V471.9 M66.3,467.8V474.1 M67.1,469.8V476.9 M67.9,469.9V474.6 M68.7,472.8V479.2 M70.3,467.9V472.4 M72.7,470.9V474.1 M73.5,470.1V473.4 M75.1,471.9V476.9 M75.9,471.9V478.3 M76.7,464.4V467.6 M77.5,467.6V472.1 M78.3,468.8V473.4 M79.9,465.4V468.9 M83.1,466.2V471.1 M83.9,467.0V477.0 M85.5,464.3V468.4 M86.3,468.3V471.5 M91.1,465.8V469.0 M92.7,462.1V465.3 M95.9,462.4V465.6 M104.7,459.1V462.3 M107.1,459.6V462.8 M108.7,459.3V462.5 M109.5,459.9V463.1 M111.9,458.5V461.7 M112.7,458.2V461.4 M115.1,458.4V461.6 M164.7,466.4V469.6 M165.5,465.1V468.1 M166.3,465.7V470.4 M167.1,466.1V469.3 M167.9,466.6V469.5 M168.7,465.8V469.0 M169.5,465.5V468.7 M170.3,466.9V470.6 M171.1,465.8V468.3 M175.1,468.0V470.5 M177.5,464.8V467.3 M178.3,468.1V470.1 M179.1,464.2V467.4 M179.9,461.9V467.6 M180.7,468.5V475.3 M181.5,467.6V471.5 M182.3,463.4V467.6 M184.7,468.4V475.4 M185.5,467.4V472.3 M187.1,469.7V473.8 M187.9,468.9V471.3 M188.7,468.8V471.5 M189.5,466.7V472.9 M192.7,472.1V477.2 M193.5,467.6V470.8 M197.5,472.5V485.1 M198.3,469.9V473.1 M199.1,471.1V477.6 M200.7,471.3V481.7 M201.5,472.0V475.2 M203.1,470.9V473.2 M203.9,472.5V477.9 M205.5,469.7V473.0 M206.3,471.3V475.7 M207.1,474.1V477.9" stroke="#5a5ad6" stroke-width="0.65" fill="none" stroke-opacity="0.85"/>
<path d="M97.5,462.9 L98.3,462.9 L99.1,462.3 L99.9,463.5 L100.7,462.2 L101.5,461.7 L102.3,463.4 L103.1,462.9 L103.9,462.5 L104.7,460.3 L105.5,460.3 L106.3,460.9 L107.1,460.8 L107.9,460.5 L108.7,460.5 L109.5,461.1 L110.3,459.5 L111.1,460.4 L111.9,459.7 L112.7,459.4 L113.5,459.4 L114.3,460.2 L115.1,459.6 L115.9,459.0 L116.7,459.2 L117.5,459.0 L118.3,459.0 L119.1,458.7 L119.9,459.0 L120.7,458.7 L121.5,458.2 L122.3,458.1 L123.1,458.0 L123.9,458.5 L124.7,458.1 L125.5,458.1 L126.3,458.1 L127.1,458.4 L127.9,458.6 L128.7,457.8 L129.5,458.3 L130.3,457.7 L131.1,457.8 L131.9,457.2 L132.7,456.7 L133.5,457.1 L134.3,457.1 L135.1,456.1 L135.9,456.3 L136.7,456.1 L137.5,456.0 L138.3,455.2 L139.1,455.0 L139.9,455.1 L140.7,454.9 L141.5,453.9 L142.3,453.7 L143.1,452.9 L143.9,452.3 L144.7,451.4 L145.5,450.6 L146.3,449.4 L147.1,448.2 L147.9,446.8 L148.7,441.9 L149.5,436.2 L150.3,435.4 L151.1,420.5 L151.9,412.8 L152.7,428.6 L153.5,446.0 L154.3,448.6 L155.1,452.1 L155.9,455.3 L156.7,458.1 L157.5,461.2 L158.3,461.5" fill="none" stroke="#4436b8" stroke-width="0.8" stroke-opacity="0.78"/>
<path d="M147.7,446.9 L147.8,446.7 L147.9,446.4 L148.0,446.2 L148.1,445.9 L148.2,445.4 L148.3,444.9 L148.4,444.2 L148.5,443.5 L148.6,442.7 L148.7,441.9 L148.8,441.0 L148.9,440.2 L149.0,439.4 L149.1,438.5 L149.2,437.8 L149.3,437.1 L149.4,436.5 L149.5,436.0 L149.6,435.6 L149.7,435.4 L149.8,435.3 L149.9,435.3 L150.0,435.3 L150.1,435.4 L150.2,435.5 L150.3,435.6 L150.4,435.7 L150.5,433.9 L150.6,431.4 L150.7,429.0 L150.8,426.7 L150.9,424.4 L151.0,422.3 L151.1,420.3 L151.2,418.4 L151.3,416.7 L151.4,415.2 L151.5,413.8 L151.6,412.7 L151.7,412.0 L151.8,412.7 L151.9,413.8 L152.0,415.2 L152.1,416.7 L152.2,418.4 L152.3,420.3 L152.4,422.3 L152.5,424.4 L152.6,426.7 L152.7,429.0 L152.8,431.4 L152.9,433.9 L153.0,436.5 L153.1,439.2 L153.2,442.0 L153.3,444.8 L153.4,445.7 L153.5,446.1 L153.6,446.5 L153.7,446.9 L153.8,447.3 L153.9,447.6 L154.0,448.0 L154.1,448.4 L154.2,448.8 L154.3,449.1 L154.4,449.5 L154.5,449.8 L154.6,450.1 L154.7,450.5 L154.8,450.8 L154.9,451.2 L155.0,451.6 L155.1,452.0 L155.2,452.4 L155.3,452.7 L155.4,453.1 L155.5,453.6 L155.6,454.0" fill="none" stroke="#4646c8" stroke-width="0.6" stroke-dasharray="1.2,0.9" stroke-opacity="0.85"/>
<path d="M44.9,473.0h1.3 M45.6,469.1h1.3 M46.4,470.3h1.3 M47.2,471.3h1.3 M48.0,470.7h1.3 M48.8,470.5h1.3 M49.6,467.9h1.3 M50.4,471.2h1.3 M51.2,468.6h1.3 M52.0,470.5h1.3 M52.8,472.6h1.3 M53.6,471.7h1.3 M54.4,470.2h1.3 M55.2,471.5h1.3 M56.0,471.5h1.3 M56.8,472.1h1.3 M57.6,468.9h1.3 M58.4,471.2h1.3 M59.2,470.3h1.3 M60.0,472.2h1.3 M60.8,472.5h1.3 M61.6,471.6h1.3 M62.4,471.4h1.3 M63.2,470.6h1.3 M64.0,472.0h1.3 M64.8,470.0h1.3 M65.6,468.5h1.3 M66.4,471.0h1.3 M67.2,472.4h1.3 M68.0,473.5h1.3 M68.8,469.9h1.3 M69.6,470.1h1.3 M70.4,472.9h1.3 M71.2,469.4h1.3 M72.0,472.1h1.3 M72.8,471.5h1.3 M73.6,470.7h1.3 M74.4,474.0h1.3 M75.2,472.9h1.3 M76.0,465.6h1.3 M76.8,469.6h1.3 M77.6,469.7h1.3 M78.4,471.1h1.3 M79.2,466.9h1.3 M80.0,466.3h1.3 M80.8,466.1h1.3 M81.6,465.7h1.3 M82.4,466.7h1.3 M83.2,469.3h1.3 M84.0,467.2h1.3 M84.8,465.1h1.3 M85.6,469.5h1.3 M86.4,465.3h1.3 M87.2,466.9h1.3 M88.0,468.0h1.3 M88.8,465.7h1.3 M89.6,465.1h1.3 M90.4,467.0h1.3 M91.2,463.3h1.3 M92.0,463.3h1.3 M92.8,463.5h1.3 M93.6,464.6h1.3 M94.4,464.7h1.3 M95.2,463.6h1.3 M96.0,465.4h1.3 M96.8,462.9h1.3 M97.6,462.9h1.3 M98.4,462.3h1.3 M99.2,463.5h1.3 M100.0,462.2h1.3 M100.8,461.7h1.3 M101.6,463.4h1.3 M102.4,462.9h1.3 M103.2,462.5h1.3 M104.0,460.3h1.3 M104.8,460.3h1.3 M105.6,460.9h1.3 M106.4,460.8h1.3 M107.2,460.5h1.3 M108.0,460.5h1.3 M108.8,461.1h1.3 M109.6,459.5h1.3 M110.4,460.4h1.3 M111.2,459.7h1.3 M112.0,459.4h1.3 M112.8,459.4h1.3 M113.6,460.2h1.3 M114.4,459.6h1.3 M115.2,459.0h1.3 M116.0,459.2h1.3 M116.8,459.0h1.3 M117.6,459.0h1.3 M118.4,458.7h1.3 M119.2,459.0h1.3 M120.0,458.7h1.3 M120.8,458.2h1.3 M121.6,458.1h1.3 M122.4,458.0h1.3 M123.2,458.5h1.3 M124.0,458.1h1.3 M124.8,458.1h1.3 M125.6,458.1h1.3 M126.4,458.4h1.3 M127.2,458.6h1.3 M128.0,457.8h1.3 M128.8,458.3h1.3 M129.6,457.7h1.3 M130.4,457.8h1.3 M131.2,457.2h1.3 M132.0,456.7h1.3 M132.8,457.1h1.3 M133.6,457.1h1.3 M134.4,456.1h1.3 M135.2,456.3h1.3 M136.0,456.1h1.3 M136.8,456.0h1.3 M137.6,455.2h1.3 M138.4,455.0h1.3 M139.2,455.1h1.3 M140.0,454.9h1.3 M140.8,453.9h1.3 M141.6,453.7h1.3 M142.4,452.9h1.3 M143.2,452.3h1.3 M144.0,451.4h1.3 M144.8,450.6h1.3 M145.6,449.4h1.3 M146.4,448.2h1.3 M147.2,446.8h1.3 M148.0,441.9h1.3 M148.8,436.2h1.3 M149.6,435.4h1.3 M150.4,420.5h1.3 M151.2,412.8h1.3 M152.0,428.6h1.3 M152.8,446.0h1.3 M153.6,448.6h1.3 M154.4,452.1h1.3 M155.2,455.3h1.3 M156.0,458.1h1.3 M156.8,461.2h1.3 M157.6,461.5h1.3 M158.4,463.4h1.3 M159.2,465.1h1.3 M160.0,464.9h1.3 M160.8,467.9h1.3 M161.6,466.5h1.3 M162.4,468.1h1.3 M163.2,467.1h1.3 M164.0,467.6h1.3 M164.8,465.9h1.3 M165.6,467.8h1.3 M166.4,467.3h1.3 M167.2,468.1h1.3 M168.0,467.0h1.3 M168.8,466.7h1.3 M169.6,467.7h1.3 M170.4,467.2h1.3 M171.2,466.8h1.3 M172.0,468.9h1.3 M172.8,468.9h1.3 M173.6,468.8h1.3 M174.4,469.0h1.3 M175.2,468.5h1.3 M176.0,468.2h1.3 M176.8,465.3h1.3 M177.6,469.0h1.3 M178.4,465.4h1.3 M179.2,466.0h1.3 M180.0,471.1h1.3 M180.8,469.7h1.3 M181.6,465.6h1.3 M182.4,468.2h1.3 M183.2,471.7h1.3 M184.0,469.9h1.3 M184.8,469.0h1.3 M185.6,469.4h1.3 M186.4,470.7h1.3 M187.2,469.8h1.3 M188.0,469.8h1.3 M188.8,468.0h1.3 M189.6,473.7h1.3 M190.4,469.1h1.3 M191.2,470.4h1.3 M192.0,472.8h1.3 M192.8,468.5h1.3 M193.6,472.3h1.3 M194.4,471.6h1.3 M195.2,470.5h1.3 M196.0,472.2h1.3 M196.8,473.9h1.3 M197.6,471.1h1.3 M198.4,474.0h1.3 M199.2,472.6h1.3 M200.0,473.4h1.3 M200.8,473.2h1.3 M201.6,471.9h1.3 M202.4,471.6h1.3 M203.2,473.7h1.3 M204.0,469.7h1.3 M204.8,471.6h1.3 M205.6,472.5h1.3 M206.4,475.5h1.3" stroke="#3a30ae" stroke-width="1.2" fill="none" stroke-opacity="0.82"/>
</g>
<rect x="45.5" y="299.5" width="162.3" height="177.1" fill="none" stroke="#b2b2b2" stroke-width="0.95"/>
<g stroke="#a8a8a8" stroke-width="0.8">
<path d="M54.4,476.6 v-2.2 M54.4,299.5 v2.2"/>
<path d="M78.3,476.6 v-2.2 M78.3,299.5 v2.2"/>
<path d="M102.3,476.6 v-2.2 M102.3,299.5 v2.2"/>
<path d="M126.2,476.6 v-2.2 M126.2,299.5 v2.2"/>
<path d="M150.2,476.6 v-2.2 M150.2,299.5 v2.2"/>
<path d="M174.2,476.6 v-2.2 M174.2,299.5 v2.2"/>
<path d="M198.1,476.6 v-2.2 M198.1,299.5 v2.2"/>
<path d="M45.5,476.6 h2.2 M207.8,476.6 h-2.2"/>
<path d="M45.5,417.6 h2.2 M207.8,417.6 h-2.2"/>
<path d="M45.5,358.5 h2.2 M207.8,358.5 h-2.2"/>
<path d="M45.5,299.5 h2.2 M207.8,299.5 h-2.2"/>
</g>
<g class="r" fill="#1e1e1e" font-size="8.2">
<text x="54.4" y="484.6" text-anchor="middle">13</text>
<text x="78.3" y="484.6" text-anchor="middle">13.5</text>
<text x="102.3" y="484.6" text-anchor="middle">14</text>
<text x="126.2" y="484.6" text-anchor="middle">14.5</text>
<text x="150.2" y="484.6" text-anchor="middle">15</text>
<text x="174.2" y="484.6" text-anchor="middle">15.5</text>
<text x="198.1" y="484.6" text-anchor="middle">16</text>
<text x="30.6" y="479.9" textLength="7.9" lengthAdjust="spacingAndGlyphs">10</text>
<text x="39.0" y="473.7" font-size="5.4">0</text>
<text x="30.6" y="420.9" textLength="7.9" lengthAdjust="spacingAndGlyphs">10</text>
<text x="39.0" y="414.7" font-size="5.4">5</text>
<text x="30.6" y="361.8" textLength="7.9" lengthAdjust="spacingAndGlyphs">10</text>
<text x="39.0" y="355.6" font-size="5.4">10</text>
<text x="30.6" y="302.8" textLength="7.9" lengthAdjust="spacingAndGlyphs">10</text>
<text x="39.0" y="296.6" font-size="5.4">15</text>
</g>
<text class="r" fill="#1e1e1e" font-size="8.6" x="94.6" y="319.9">Bi<tspan font-size="5.5" dy="2.5">2</tspan><tspan dy="-2.5">Ir</tspan><tspan font-size="5.5" dy="2.5">2</tspan><tspan dy="-2.5">O</tspan><tspan font-size="5.5" dy="2.5">7</tspan><tspan dy="-2.5"> (222)</tspan></text>
<text class="r" fill="#1e1e1e" font-size="8.6" x="165" y="319.9" textLength="34.3" lengthAdjust="spacingAndGlyphs">YSZ (111)</text>
<text class="r" fill="#1e1e1e" font-size="8.3" x="88.6" y="492.5" textLength="75.2" lengthAdjust="spacingAndGlyphs">Incidence angle ω (deg)</text>
<text class="r" fill="#1e1e1e" font-size="8" transform="translate(26.8,387.6) rotate(-90)" text-anchor="middle" textLength="27.4" lengthAdjust="spacingAndGlyphs">Intensity</text>

<!-- ================= PANEL (c) ================= -->
<text class="s" x="238" y="282.2" font-size="18.8" textLength="21.6" lengthAdjust="spacingAndGlyphs" fill="#111" stroke="#111" stroke-width="0.3">(c)</text>
<rect x="269.7" y="310.2" width="138.8" height="144.3" fill="#f4f4f4" stroke="#7c7c7c" stroke-width="1.1"/>
<path d="M286.5,310 v2 M286.5,454.5 v-2" stroke="#666" stroke-width="0.8"/>
<path d="M269.7,327.9 h2 M408.5,327.9 h-2" stroke="#666" stroke-width="0.8"/>
<path d="M338.9,310 v2 M338.9,454.5 v-2" stroke="#666" stroke-width="0.8"/>
<path d="M269.7,382.4 h2 M408.5,382.4 h-2" stroke="#666" stroke-width="0.8"/>
<path d="M391.3,310 v2 M391.3,454.5 v-2" stroke="#666" stroke-width="0.8"/>
<path d="M269.7,436.9 h2 M408.5,436.9 h-2" stroke="#666" stroke-width="0.8"/>
<ellipse cx="340.1" cy="324.9" rx="1.8" ry="2.4" fill="url(#spot)"/>
<ellipse cx="292.4" cy="352.3" rx="1.8" ry="1.5" fill="url(#spot)"/>
<ellipse cx="386.3" cy="354.9" rx="1.8" ry="1.5" fill="url(#spot)"/>
<ellipse cx="290.9" cy="408.9" rx="2.0" ry="1.9" fill="url(#spot)"/>
<ellipse cx="385.5" cy="411.1" rx="2.0" ry="1.8" fill="url(#spot)"/>
<ellipse cx="337.5" cy="438.3" rx="1.6" ry="2.0" fill="url(#spot)"/>
<text class="s" x="315.3" y="337.2" font-size="11.6" fill="#1a1a1a" textLength="48.6" lengthAdjust="spacingAndGlyphs">BIO(044)</text>
<text class="s" x="271.6" y="369.6" font-size="11.6" fill="#1a1a1a" textLength="48.4" lengthAdjust="spacingAndGlyphs">BIO(040)</text>
<text class="s" x="358.0" y="368.5" font-size="11.6" fill="#1a1a1a" textLength="48.2" lengthAdjust="spacingAndGlyphs">BIO(004)</text>
<text class="s" x="271.4" y="399.6" font-size="11.6" fill="#1a1a1a" textLength="48.6" lengthAdjust="spacingAndGlyphs">BIO(440)</text>
<text class="s" x="358.0" y="400.9" font-size="11.6" fill="#1a1a1a" textLength="48.2" lengthAdjust="spacingAndGlyphs">BIO(404)</text>
<text class="s" x="315.3" y="424.4" font-size="11.6" fill="#1a1a1a" textLength="48.6" lengthAdjust="spacingAndGlyphs">BIO(400)</text>
<text class="s" x="268.0" y="330.6" font-size="11.6" fill="#1a1a1a" textLength="20.0" lengthAdjust="spacingAndGlyphs" text-anchor="end">-0.3</text>
<text class="s" x="268.4" y="386.4" font-size="11.6" fill="#1a1a1a" text-anchor="end">0</text>
<text class="s" x="268.2" y="440.1" font-size="11.6" fill="#1a1a1a" textLength="16.4" lengthAdjust="spacingAndGlyphs" text-anchor="end">0.3</text>
<text class="s" x="285.1" y="467.4" font-size="11.8" fill="#1a1a1a" textLength="21" lengthAdjust="spacingAndGlyphs" text-anchor="middle">-0.3</text>
<text class="s" x="339.4" y="467.4" font-size="11.8" fill="#1a1a1a" text-anchor="middle">0</text>
<text class="s" x="391.5" y="467.4" font-size="11.8" fill="#1a1a1a" textLength="19.2" lengthAdjust="spacingAndGlyphs" text-anchor="middle">0.3</text>
<text class="s" x="317.2" y="483.8" font-size="12.2" fill="#1a1a1a" textLength="42.2" lengthAdjust="spacingAndGlyphs">Q<tspan font-size="9" dy="5.5">x</tspan><tspan dy="-5.5"> (Å</tspan><tspan font-size="9" dy="-5">-1</tspan><tspan dy="5">)</tspan></text>
<text class="s" font-size="13" fill="#1a1a1a" transform="translate(237.2,404.4) rotate(-90)" textLength="43" lengthAdjust="spacingAndGlyphs">Q<tspan font-size="9" dy="4">y</tspan><tspan dy="-4"> (Å</tspan><tspan font-size="9" dy="-5">-1</tspan><tspan dy="5">)</tspan></text>
<rect x="465.9" y="309.7" width="57.2" height="149" fill="#fff" stroke="#8a8a8a" stroke-width="1"/>
<path d="M465.9,450.2 h2 M523.1,450.2 h-2" stroke="#666" stroke-width="0.8"/>
<path d="M465.9,403.5 h2 M523.1,403.5 h-2" stroke="#666" stroke-width="0.8"/>
<path d="M465.9,356.8 h2 M523.1,356.8 h-2" stroke="#666" stroke-width="0.8"/>
<path d="M465.9,310.1 h2 M523.1,310.1 h-2" stroke="#666" stroke-width="0.8"/>
<path d="M480.6,309.7 v2 M480.6,458.7 v-2" stroke="#666" stroke-width="0.8"/>
<path d="M509.4,309.7 v2 M509.4,458.7 v-2" stroke="#666" stroke-width="0.8"/>
<ellipse cx="494.5" cy="339.5" rx="8.5" ry="4.2" fill="url(#halo)" transform="rotate(-38 494.5 339.5)"/>
<ellipse cx="495" cy="441" rx="7.5" ry="3.8" fill="url(#halo)" transform="rotate(-25 495 441)"/>
<path d="M500,313.5 V459" stroke="#8c96e6" stroke-width="1.6" stroke-dasharray="10,4"/>
<path d="M481.6,350.3 L511.6,323.3 M481.2,447.2 L511.1,433.3" stroke="#3434c4" stroke-width="1.2"/>
<ellipse cx="500.2" cy="333.5" rx="3.6" ry="2.6" fill="#d82418"/>
<ellipse cx="501.3" cy="333.8" rx="2.0" ry="1.6" fill="#ffd030"/>
<ellipse cx="499.0" cy="333.0" rx="1.1" ry="1.0" fill="#40b060"/>
<ellipse cx="500.0" cy="334.2" rx="0.9" ry="0.8" fill="#3050d0"/>
<ellipse cx="495" cy="340.8" rx="1.7" ry="1.4" fill="#d82418"/>
<ellipse cx="498.3" cy="438" rx="2.2" ry="1.7" fill="#d82418"/>
<ellipse cx="501.4" cy="439.2" rx="2.0" ry="1.6" fill="#d82418"/>
<ellipse cx="498.8" cy="438.3" rx="1.0" ry="0.8" fill="#4048c8"/>
<ellipse cx="501.0" cy="439.3" rx="0.9" ry="0.7" fill="#4048c8"/>
<ellipse cx="495" cy="442" rx="1.8" ry="1.4" fill="#d82418"/>
<text class="s" x="476.4" y="364.9" font-size="11.6" fill="#1a1a1a" textLength="48.6" lengthAdjust="spacingAndGlyphs">BIO(440)</text>
<text class="s" x="476.9" y="425.6" font-size="11.6" fill="#1a1a1a" textLength="48.0" lengthAdjust="spacingAndGlyphs">BIO(400)</text>
<text class="s" x="464.3" y="314.0" font-size="10.8" fill="#1a1a1a" textLength="13.4" lengthAdjust="spacingAndGlyphs" text-anchor="end">0.5</text>
<text class="s" x="464.3" y="360.7" font-size="10.8" fill="#1a1a1a" textLength="13.7" lengthAdjust="spacingAndGlyphs" text-anchor="end">0.4</text>
<text class="s" x="464.3" y="407.4" font-size="10.8" fill="#1a1a1a" textLength="13.4" lengthAdjust="spacingAndGlyphs" text-anchor="end">0.3</text>
<text class="s" x="464.3" y="454.1" font-size="10.8" fill="#1a1a1a" textLength="13.4" lengthAdjust="spacingAndGlyphs" text-anchor="end">0.2</text>
<text class="s" x="480.1" y="470.3" font-size="11" fill="#1a1a1a" textLength="20.2" lengthAdjust="spacingAndGlyphs" text-anchor="middle">0.29</text>
<text class="s" x="508.3" y="470.3" font-size="11" fill="#1a1a1a" textLength="20.2" lengthAdjust="spacingAndGlyphs" text-anchor="middle">0.33</text>
<text class="s" x="474.4" y="484.8" font-size="11.4" fill="#1a1a1a" textLength="39.4" lengthAdjust="spacingAndGlyphs">Q<tspan font-size="8.6" dy="5">ip</tspan><tspan dy="-5"> (Å</tspan><tspan font-size="8.6" dy="-5">-1</tspan><tspan dy="5">)</tspan></text>
<text class="s" font-size="11.6" fill="#1a1a1a" transform="translate(442.4,405.6) rotate(-90)" textLength="41.4" lengthAdjust="spacingAndGlyphs">Q<tspan font-size="8.6" dy="4.2">op</tspan><tspan dy="-4.2"> (Å</tspan><tspan font-size="8.6" dy="-5">-1</tspan><tspan dy="5">)</tspan></text>
</svg>
</body></html>
